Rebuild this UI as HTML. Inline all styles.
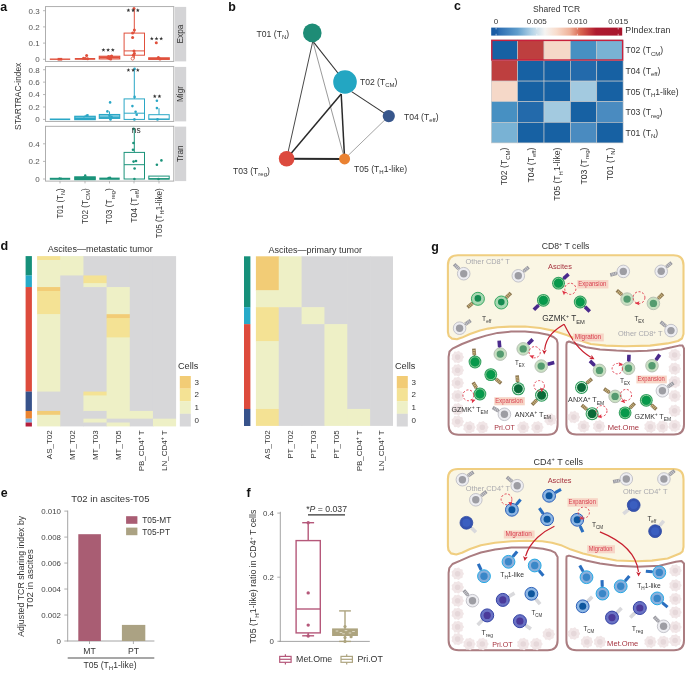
<!DOCTYPE html>
<html><head><meta charset="utf-8"><style>
html,body{margin:0;padding:0;background:#fff;width:685px;height:673px;overflow:hidden}
svg{display:block;font-family:"Liberation Sans", sans-serif;will-change:transform}
</style></head><body>
<svg width="685" height="673" viewBox="0 0 685 673" font-family='"Liberation Sans", sans-serif'>
<text x="0.20" y="10.90" font-size="12.4" fill="#111" text-anchor="start" font-weight="bold">a</text>
<rect x="45.50" y="6.60" width="128.30" height="54.80" fill="#fff" stroke="#a6a6a6" stroke-width="0.9"/>
<rect x="174.80" y="6.90" width="11.40" height="54.50" fill="#d4d4d6" stroke="none" stroke-width="1"/>
<text x="183.20" y="34.00" font-size="8.3" fill="#333" text-anchor="middle" transform="rotate(-90 183.20 34.00)">Expa</text>
<line x1="43.00" y1="59.30" x2="45.50" y2="59.30" stroke="#a6a6a6" stroke-width="0.8"/>
<text x="39.60" y="62.20" font-size="8.0" fill="#555" text-anchor="end">0</text>
<line x1="43.00" y1="43.10" x2="45.50" y2="43.10" stroke="#a6a6a6" stroke-width="0.8"/>
<text x="39.60" y="46.00" font-size="8.0" fill="#555" text-anchor="end">0.1</text>
<line x1="43.00" y1="26.90" x2="45.50" y2="26.90" stroke="#a6a6a6" stroke-width="0.8"/>
<text x="39.60" y="29.80" font-size="8.0" fill="#555" text-anchor="end">0.2</text>
<line x1="43.00" y1="10.70" x2="45.50" y2="10.70" stroke="#a6a6a6" stroke-width="0.8"/>
<text x="39.60" y="13.60" font-size="8.0" fill="#555" text-anchor="end">0.3</text>
<rect x="45.50" y="66.60" width="128.30" height="54.80" fill="#fff" stroke="#a6a6a6" stroke-width="0.9"/>
<rect x="174.80" y="66.90" width="11.40" height="54.50" fill="#d4d4d6" stroke="none" stroke-width="1"/>
<text x="183.20" y="94.00" font-size="8.3" fill="#333" text-anchor="middle" transform="rotate(-90 183.20 94.00)">Migr</text>
<line x1="43.00" y1="119.40" x2="45.50" y2="119.40" stroke="#a6a6a6" stroke-width="0.8"/>
<text x="39.60" y="122.30" font-size="8.0" fill="#555" text-anchor="end">0</text>
<line x1="43.00" y1="106.98" x2="45.50" y2="106.98" stroke="#a6a6a6" stroke-width="0.8"/>
<text x="39.60" y="109.88" font-size="8.0" fill="#555" text-anchor="end">0.2</text>
<line x1="43.00" y1="94.56" x2="45.50" y2="94.56" stroke="#a6a6a6" stroke-width="0.8"/>
<text x="39.60" y="97.46" font-size="8.0" fill="#555" text-anchor="end">0.4</text>
<line x1="43.00" y1="82.14" x2="45.50" y2="82.14" stroke="#a6a6a6" stroke-width="0.8"/>
<text x="39.60" y="85.04" font-size="8.0" fill="#555" text-anchor="end">0.6</text>
<line x1="43.00" y1="69.72" x2="45.50" y2="69.72" stroke="#a6a6a6" stroke-width="0.8"/>
<text x="39.60" y="72.62" font-size="8.0" fill="#555" text-anchor="end">0.8</text>
<rect x="45.50" y="126.30" width="128.30" height="54.80" fill="#fff" stroke="#a6a6a6" stroke-width="0.9"/>
<rect x="174.80" y="126.60" width="11.40" height="54.50" fill="#d4d4d6" stroke="none" stroke-width="1"/>
<text x="183.20" y="153.70" font-size="8.3" fill="#333" text-anchor="middle" transform="rotate(-90 183.20 153.70)">Tran</text>
<line x1="43.00" y1="179.00" x2="45.50" y2="179.00" stroke="#a6a6a6" stroke-width="0.8"/>
<text x="39.60" y="181.90" font-size="8.0" fill="#555" text-anchor="end">0</text>
<line x1="43.00" y1="161.40" x2="45.50" y2="161.40" stroke="#a6a6a6" stroke-width="0.8"/>
<text x="39.60" y="164.30" font-size="8.0" fill="#555" text-anchor="end">0.2</text>
<line x1="43.00" y1="143.80" x2="45.50" y2="143.80" stroke="#a6a6a6" stroke-width="0.8"/>
<text x="39.60" y="146.70" font-size="8.0" fill="#555" text-anchor="end">0.4</text>
<line x1="60.00" y1="181.10" x2="60.00" y2="183.40" stroke="#a6a6a6" stroke-width="0.8"/>
<line x1="85.00" y1="181.10" x2="85.00" y2="183.40" stroke="#a6a6a6" stroke-width="0.8"/>
<line x1="109.50" y1="181.10" x2="109.50" y2="183.40" stroke="#a6a6a6" stroke-width="0.8"/>
<line x1="134.00" y1="181.10" x2="134.00" y2="183.40" stroke="#a6a6a6" stroke-width="0.8"/>
<line x1="159.00" y1="181.10" x2="159.00" y2="183.40" stroke="#a6a6a6" stroke-width="0.8"/>
<rect x="49.80" y="58.50" width="20.40" height="1.40" fill="#e0503c" stroke="none" stroke-width="1"/>
<rect x="57.60" y="57.90" width="4.60" height="2.70" fill="#e0503c" stroke="none" stroke-width="1"/>
<rect x="74.80" y="58.00" width="20.40" height="1.80" fill="#e0503c" stroke="none" stroke-width="1"/>
<circle cx="86.60" cy="55.60" r="1.50" fill="#e0503c" stroke="none" stroke-width="1"/>
<circle cx="83.50" cy="58.30" r="1.50" fill="#e0503c" stroke="none" stroke-width="1"/>
<circle cx="85.30" cy="58.60" r="1.50" fill="#e0503c" stroke="none" stroke-width="1"/>
<circle cx="87.60" cy="58.70" r="1.50" fill="#e0503c" stroke="none" stroke-width="1"/>
<line x1="109.50" y1="56.30" x2="109.50" y2="55.80" stroke="#e0503c" stroke-width="1.2"/>
<line x1="109.50" y1="58.90" x2="109.50" y2="59.20" stroke="#e0503c" stroke-width="1.2"/>
<rect x="99.30" y="56.30" width="20.40" height="2.60" fill="none" stroke="#e0503c" stroke-width="1.2"/>
<line x1="99.30" y1="57.60" x2="119.70" y2="57.60" stroke="#e0503c" stroke-width="1.2"/>
<circle cx="108.50" cy="56.50" r="1.50" fill="#e0503c" stroke="none" stroke-width="1"/>
<circle cx="110.50" cy="56.80" r="1.50" fill="#e0503c" stroke="none" stroke-width="1"/>
<circle cx="111.60" cy="56.00" r="1.50" fill="#e0503c" stroke="none" stroke-width="1"/>
<circle cx="109.50" cy="58.40" r="1.50" fill="#e0503c" stroke="none" stroke-width="1"/>
<circle cx="107.80" cy="57.80" r="1.50" fill="#e0503c" stroke="none" stroke-width="1"/>
<circle cx="110.70" cy="58.90" r="1.50" fill="#e0503c" stroke="none" stroke-width="1"/>
<line x1="134.30" y1="33.10" x2="134.30" y2="8.20" stroke="#e0503c" stroke-width="1.0"/>
<line x1="134.30" y1="55.20" x2="134.30" y2="58.70" stroke="#e0503c" stroke-width="1.0"/>
<rect x="124.10" y="33.10" width="20.40" height="22.10" fill="none" stroke="#e0503c" stroke-width="1.0"/>
<line x1="124.10" y1="50.90" x2="144.50" y2="50.90" stroke="#e0503c" stroke-width="1.0"/>
<circle cx="134.00" cy="8.60" r="1.50" fill="#e0503c" stroke="none" stroke-width="1"/>
<circle cx="134.40" cy="30.00" r="1.50" fill="#e0503c" stroke="none" stroke-width="1"/>
<circle cx="132.60" cy="33.00" r="1.50" fill="#e0503c" stroke="none" stroke-width="1"/>
<circle cx="132.60" cy="37.40" r="1.50" fill="#e0503c" stroke="none" stroke-width="1"/>
<circle cx="134.00" cy="51.10" r="1.50" fill="#e0503c" stroke="none" stroke-width="1"/>
<circle cx="134.40" cy="53.60" r="1.50" fill="#e0503c" stroke="none" stroke-width="1"/>
<circle cx="133.30" cy="55.20" r="1.50" fill="#e0503c" stroke="none" stroke-width="1"/>
<circle cx="132.60" cy="58.60" r="1.50" fill="#fff" stroke="#e0503c" stroke-width="0.8"/>
<line x1="159.00" y1="57.90" x2="159.00" y2="57.90" stroke="#e0503c" stroke-width="1.3"/>
<line x1="159.00" y1="59.30" x2="159.00" y2="59.40" stroke="#e0503c" stroke-width="1.3"/>
<rect x="148.80" y="57.90" width="20.40" height="1.40" fill="none" stroke="#e0503c" stroke-width="1.3"/>
<line x1="148.80" y1="58.70" x2="169.20" y2="58.70" stroke="#e0503c" stroke-width="1.3"/>
<circle cx="156.30" cy="42.70" r="1.50" fill="#e0503c" stroke="none" stroke-width="1"/>
<circle cx="158.40" cy="57.60" r="1.50" fill="#e0503c" stroke="none" stroke-width="1"/>
<circle cx="160.00" cy="58.90" r="1.50" fill="#e0503c" stroke="none" stroke-width="1"/>
<polygon points="103.40,47.95 103.90,49.31 105.35,49.37 104.21,50.26 104.60,51.66 103.40,50.85 102.20,51.66 102.59,50.26 101.45,49.37 102.90,49.31" fill="#333"/>
<polygon points="108.10,47.95 108.60,49.31 110.05,49.37 108.91,50.26 109.30,51.66 108.10,50.85 106.90,51.66 107.29,50.26 106.15,49.37 107.60,49.31" fill="#333"/>
<polygon points="112.80,47.95 113.30,49.31 114.75,49.37 113.61,50.26 114.00,51.66 112.80,50.85 111.60,51.66 111.99,50.26 110.85,49.37 112.30,49.31" fill="#333"/>
<polygon points="128.40,8.25 128.90,9.61 130.35,9.67 129.21,10.56 129.60,11.96 128.40,11.15 127.20,11.96 127.59,10.56 126.45,9.67 127.90,9.61" fill="#333"/>
<polygon points="133.10,8.25 133.60,9.61 135.05,9.67 133.91,10.56 134.30,11.96 133.10,11.15 131.90,11.96 132.29,10.56 131.15,9.67 132.60,9.61" fill="#333"/>
<polygon points="137.80,8.25 138.30,9.61 139.75,9.67 138.61,10.56 139.00,11.96 137.80,11.15 136.60,11.96 136.99,10.56 135.85,9.67 137.30,9.61" fill="#333"/>
<polygon points="151.80,36.55 152.30,37.91 153.75,37.97 152.61,38.86 153.00,40.26 151.80,39.45 150.60,40.26 150.99,38.86 149.85,37.97 151.30,37.91" fill="#333"/>
<polygon points="156.50,36.55 157.00,37.91 158.45,37.97 157.31,38.86 157.70,40.26 156.50,39.45 155.30,40.26 155.69,38.86 154.55,37.97 156.00,37.91" fill="#333"/>
<polygon points="161.20,36.55 161.70,37.91 163.15,37.97 162.01,38.86 162.40,40.26 161.20,39.45 160.00,40.26 160.39,38.86 159.25,37.97 160.70,37.91" fill="#333"/>
<rect x="49.80" y="118.50" width="20.40" height="1.60" fill="#2aa7c6" stroke="none" stroke-width="1"/>
<line x1="85.00" y1="116.30" x2="85.00" y2="115.60" stroke="#2aa7c6" stroke-width="1.2"/>
<line x1="85.00" y1="119.60" x2="85.00" y2="119.70" stroke="#2aa7c6" stroke-width="1.2"/>
<rect x="74.80" y="116.30" width="20.40" height="3.30" fill="#62c0d8" stroke="#2aa7c6" stroke-width="1.2"/>
<line x1="74.80" y1="118.60" x2="95.20" y2="118.60" stroke="#2aa7c6" stroke-width="1.2"/>
<circle cx="86.60" cy="115.60" r="1.20" fill="#2aa7c6" stroke="none" stroke-width="1"/>
<circle cx="87.60" cy="115.10" r="1.20" fill="#2aa7c6" stroke="none" stroke-width="1"/>
<circle cx="84.00" cy="118.80" r="1.20" fill="#2aa7c6" stroke="none" stroke-width="1"/>
<line x1="109.50" y1="114.50" x2="109.50" y2="111.40" stroke="#2aa7c6" stroke-width="1.1"/>
<line x1="109.50" y1="118.40" x2="109.50" y2="119.40" stroke="#2aa7c6" stroke-width="1.1"/>
<rect x="99.30" y="114.50" width="20.40" height="3.90" fill="#7ccbe0" stroke="#2aa7c6" stroke-width="1.1"/>
<line x1="99.30" y1="117.30" x2="119.70" y2="117.30" stroke="#2aa7c6" stroke-width="1.1"/>
<circle cx="110.10" cy="102.40" r="1.30" fill="#2aa7c6" stroke="none" stroke-width="1"/>
<circle cx="107.40" cy="111.40" r="1.30" fill="#2aa7c6" stroke="none" stroke-width="1"/>
<circle cx="109.50" cy="115.70" r="1.30" fill="#2aa7c6" stroke="none" stroke-width="1"/>
<circle cx="110.50" cy="119.40" r="1.30" fill="#2aa7c6" stroke="none" stroke-width="1"/>
<circle cx="111.50" cy="116.90" r="1.30" fill="#2aa7c6" stroke="none" stroke-width="1"/>
<line x1="134.30" y1="98.90" x2="134.30" y2="68.90" stroke="#2aa7c6" stroke-width="1.0"/>
<line x1="134.30" y1="119.40" x2="134.30" y2="119.40" stroke="#2aa7c6" stroke-width="1.0"/>
<rect x="124.10" y="98.90" width="20.40" height="20.50" fill="none" stroke="#2aa7c6" stroke-width="1.0"/>
<line x1="124.10" y1="113.20" x2="144.50" y2="113.20" stroke="#2aa7c6" stroke-width="1.0"/>
<circle cx="134.60" cy="68.90" r="1.30" fill="#2aa7c6" stroke="none" stroke-width="1"/>
<circle cx="134.60" cy="96.90" r="1.30" fill="#2aa7c6" stroke="none" stroke-width="1"/>
<circle cx="132.40" cy="106.10" r="1.30" fill="#2aa7c6" stroke="none" stroke-width="1"/>
<circle cx="135.60" cy="111.80" r="1.30" fill="#2aa7c6" stroke="none" stroke-width="1"/>
<circle cx="136.70" cy="114.70" r="1.30" fill="#2aa7c6" stroke="none" stroke-width="1"/>
<circle cx="134.40" cy="119.40" r="1.30" fill="#2aa7c6" stroke="none" stroke-width="1"/>
<line x1="159.00" y1="114.70" x2="159.00" y2="108.20" stroke="#2aa7c6" stroke-width="1.0"/>
<line x1="159.00" y1="119.40" x2="159.00" y2="119.40" stroke="#2aa7c6" stroke-width="1.0"/>
<rect x="148.80" y="114.70" width="20.40" height="4.70" fill="none" stroke="#2aa7c6" stroke-width="1.0"/>
<line x1="148.80" y1="119.00" x2="169.20" y2="119.00" stroke="#2aa7c6" stroke-width="1.0"/>
<circle cx="156.90" cy="100.80" r="1.30" fill="#2aa7c6" stroke="none" stroke-width="1"/>
<circle cx="156.90" cy="108.10" r="1.30" fill="#2aa7c6" stroke="none" stroke-width="1"/>
<circle cx="157.50" cy="119.40" r="1.30" fill="#2aa7c6" stroke="none" stroke-width="1"/>
<polygon points="128.40,68.05 128.90,69.41 130.35,69.47 129.21,70.36 129.60,71.76 128.40,70.95 127.20,71.76 127.59,70.36 126.45,69.47 127.90,69.41" fill="#333"/>
<polygon points="133.10,68.05 133.60,69.41 135.05,69.47 133.91,70.36 134.30,71.76 133.10,70.95 131.90,71.76 132.29,70.36 131.15,69.47 132.60,69.41" fill="#333"/>
<polygon points="137.80,68.05 138.30,69.41 139.75,69.47 138.61,70.36 139.00,71.76 137.80,70.95 136.60,71.76 136.99,70.36 135.85,69.47 137.30,69.41" fill="#333"/>
<polygon points="154.75,94.25 155.25,95.61 156.70,95.67 155.56,96.56 155.95,97.96 154.75,97.15 153.55,97.96 153.94,96.56 152.80,95.67 154.25,95.61" fill="#333"/>
<polygon points="159.45,94.25 159.95,95.61 161.40,95.67 160.26,96.56 160.65,97.96 159.45,97.15 158.25,97.96 158.64,96.56 157.50,95.67 158.95,95.61" fill="#333"/>
<rect x="49.80" y="177.80" width="20.40" height="2.00" fill="#1b937a" stroke="none" stroke-width="1"/>
<circle cx="59.50" cy="178.40" r="1.10" fill="#1b937a" stroke="none" stroke-width="1"/>
<circle cx="61.00" cy="178.60" r="1.10" fill="#1b937a" stroke="none" stroke-width="1"/>
<line x1="85.00" y1="176.90" x2="85.00" y2="176.20" stroke="#1b937a" stroke-width="1.2"/>
<line x1="85.00" y1="179.60" x2="85.00" y2="179.60" stroke="#1b937a" stroke-width="1.2"/>
<rect x="74.80" y="176.90" width="20.40" height="2.70" fill="#1b937a" stroke="#1b937a" stroke-width="1.2"/>
<line x1="74.80" y1="178.40" x2="95.20" y2="178.40" stroke="#1b937a" stroke-width="1.2"/>
<circle cx="85.20" cy="175.40" r="1.20" fill="#1b937a" stroke="none" stroke-width="1"/>
<circle cx="83.70" cy="177.50" r="1.20" fill="#1b937a" stroke="none" stroke-width="1"/>
<circle cx="86.50" cy="177.80" r="1.20" fill="#1b937a" stroke="none" stroke-width="1"/>
<rect x="99.30" y="177.60" width="20.40" height="2.20" fill="#1b937a" stroke="none" stroke-width="1"/>
<circle cx="110.00" cy="177.60" r="1.20" fill="#1b937a" stroke="none" stroke-width="1"/>
<circle cx="108.50" cy="178.00" r="1.20" fill="#1b937a" stroke="none" stroke-width="1"/>
<line x1="134.30" y1="152.40" x2="134.30" y2="128.30" stroke="#1b937a" stroke-width="1.0"/>
<line x1="134.30" y1="179.00" x2="134.30" y2="179.00" stroke="#1b937a" stroke-width="1.0"/>
<rect x="124.10" y="152.40" width="20.40" height="26.60" fill="none" stroke="#1b937a" stroke-width="1.0"/>
<line x1="124.10" y1="164.70" x2="144.50" y2="164.70" stroke="#1b937a" stroke-width="1.0"/>
<circle cx="133.60" cy="128.90" r="1.30" fill="#1b937a" stroke="none" stroke-width="1"/>
<circle cx="133.40" cy="143.00" r="1.30" fill="#1b937a" stroke="none" stroke-width="1"/>
<circle cx="133.00" cy="149.70" r="1.30" fill="#1b937a" stroke="none" stroke-width="1"/>
<circle cx="133.60" cy="161.60" r="1.30" fill="#1b937a" stroke="none" stroke-width="1"/>
<circle cx="136.00" cy="161.00" r="1.30" fill="#1b937a" stroke="none" stroke-width="1"/>
<circle cx="134.60" cy="168.50" r="1.30" fill="#1b937a" stroke="none" stroke-width="1"/>
<circle cx="134.40" cy="179.00" r="1.30" fill="#1b937a" stroke="none" stroke-width="1"/>
<line x1="159.00" y1="176.10" x2="159.00" y2="176.10" stroke="#1b937a" stroke-width="1.0"/>
<line x1="159.00" y1="179.20" x2="159.00" y2="179.20" stroke="#1b937a" stroke-width="1.0"/>
<rect x="148.80" y="176.10" width="20.40" height="3.10" fill="none" stroke="#1b937a" stroke-width="1.0"/>
<line x1="148.80" y1="178.60" x2="169.20" y2="178.60" stroke="#1b937a" stroke-width="1.0"/>
<circle cx="156.90" cy="164.70" r="1.30" fill="#1b937a" stroke="none" stroke-width="1"/>
<circle cx="161.40" cy="160.40" r="1.30" fill="#1b937a" stroke="none" stroke-width="1"/>
<circle cx="158.50" cy="179.00" r="1.30" fill="#1b937a" stroke="none" stroke-width="1"/>
<text x="136.30" y="133.20" font-size="8.4" fill="#333" text-anchor="middle">ns</text>
<text x="62.70" y="188.30" font-size="8.6" fill="#333" text-anchor="end" transform="rotate(-90 62.70 188.30)" textLength="30.2" lengthAdjust="spacingAndGlyphs">T01 (T<tspan font-size="6.02" dy="2.41">N</tspan><tspan dy="-2.41">)</tspan></text>
<text x="87.70" y="188.30" font-size="8.6" fill="#333" text-anchor="end" transform="rotate(-90 87.70 188.30)" textLength="35.8" lengthAdjust="spacingAndGlyphs">T02 (T<tspan font-size="6.02" dy="2.41">CM</tspan><tspan dy="-2.41">)</tspan></text>
<text x="112.20" y="188.30" font-size="8.6" fill="#333" text-anchor="end" transform="rotate(-90 112.20 188.30)" textLength="35.6" lengthAdjust="spacingAndGlyphs">T03 (T<tspan font-size="6.02" dy="2.41">reg</tspan><tspan dy="-2.41">)</tspan></text>
<text x="136.70" y="188.30" font-size="8.6" fill="#333" text-anchor="end" transform="rotate(-90 136.70 188.30)" textLength="34.4" lengthAdjust="spacingAndGlyphs">T04 (T<tspan font-size="6.02" dy="2.41">eff</tspan><tspan dy="-2.41">)</tspan></text>
<text x="161.70" y="188.30" font-size="8.6" fill="#333" text-anchor="end" transform="rotate(-90 161.70 188.30)" textLength="50.0" lengthAdjust="spacingAndGlyphs">T05 (T<tspan font-size="6.02" dy="2.41">H</tspan><tspan dy="-2.41">1-like)</tspan></text>
<text x="20.80" y="96.30" font-size="8.4" fill="#333" text-anchor="middle" transform="rotate(-90 20.80 96.30)">STARTRAC-index</text>
<text x="228.20" y="10.90" font-size="12.4" fill="#111" text-anchor="start" font-weight="bold">b</text>
<line x1="312.80" y1="41.20" x2="345.00" y2="82.00" stroke="#333" stroke-width="1.1"/>
<line x1="312.80" y1="41.20" x2="286.60" y2="158.70" stroke="#333" stroke-width="0.9"/>
<line x1="312.80" y1="41.20" x2="344.60" y2="158.90" stroke="#555" stroke-width="0.6"/>
<line x1="341.20" y1="94.00" x2="286.60" y2="158.70" stroke="#2a2a2a" stroke-width="1.5"/>
<line x1="341.20" y1="94.00" x2="344.60" y2="158.90" stroke="#2a2a2a" stroke-width="1.5"/>
<line x1="351.60" y1="91.60" x2="388.80" y2="116.10" stroke="#333" stroke-width="1.1"/>
<line x1="388.80" y1="116.10" x2="344.60" y2="158.90" stroke="#666" stroke-width="0.6"/>
<line x1="286.60" y1="158.70" x2="344.60" y2="158.90" stroke="#2a2a2a" stroke-width="2.0"/>
<circle cx="312.30" cy="32.90" r="9.30" fill="#1e8c76" stroke="none" stroke-width="1"/>
<circle cx="345.00" cy="82.00" r="11.80" fill="#23a6c2" stroke="none" stroke-width="1"/>
<circle cx="388.80" cy="116.10" r="6.10" fill="#38578c" stroke="none" stroke-width="1"/>
<circle cx="286.60" cy="158.70" r="7.80" fill="#dc4a3e" stroke="none" stroke-width="1"/>
<circle cx="344.60" cy="158.90" r="5.50" fill="#ea8232" stroke="none" stroke-width="1"/>
<text x="256.60" y="36.60" font-size="8.6" fill="#333" text-anchor="start">T01 (T<tspan font-size="6.02" dy="2.41">N</tspan><tspan dy="-2.41">)</tspan></text>
<text x="359.90" y="84.80" font-size="8.6" fill="#333" text-anchor="start">T02 (T<tspan font-size="6.02" dy="2.41">CM</tspan><tspan dy="-2.41">)</tspan></text>
<text x="403.90" y="120.00" font-size="8.6" fill="#333" text-anchor="start">T04 (T<tspan font-size="6.02" dy="2.41">eff</tspan><tspan dy="-2.41">)</tspan></text>
<text x="233.00" y="173.60" font-size="8.6" fill="#333" text-anchor="start">T03 (T<tspan font-size="6.02" dy="2.41">reg</tspan><tspan dy="-2.41">)</tspan></text>
<text x="354.00" y="171.90" font-size="8.6" fill="#333" text-anchor="start">T05 (T<tspan font-size="6.02" dy="2.41">H</tspan><tspan dy="-2.41">1-like)</tspan></text>
<text x="454.10" y="10.40" font-size="12.4" fill="#111" text-anchor="start" font-weight="bold">c</text>
<text x="556.60" y="12.00" font-size="8.5" fill="#333" text-anchor="middle">Shared TCR</text>
<defs><linearGradient id="cb" x1="0" x2="1" y1="0" y2="0">
<stop offset="0" stop-color="#175aa3"/><stop offset="0.045" stop-color="#1b5ea6"/><stop offset="0.06" stop-color="#2c6db2"/>
<stop offset="0.2" stop-color="#5f9dcc"/><stop offset="0.31" stop-color="#b3d3e7"/><stop offset="0.41" stop-color="#f5f4f2"/><stop offset="0.5" stop-color="#f8dccc"/>
<stop offset="0.6" stop-color="#efb29a"/><stop offset="0.68" stop-color="#d96650"/><stop offset="0.75" stop-color="#c2383b"/><stop offset="0.8" stop-color="#ae1a2f"/><stop offset="1" stop-color="#a8152d"/>
</linearGradient></defs>
<rect x="491.20" y="27.60" width="131.00" height="8.00" fill="url(#cb)" stroke="none" stroke-width="1"/>
<line x1="496.10" y1="27.60" x2="496.10" y2="29.40" stroke="#fff" stroke-width="0.6"/>
<line x1="496.10" y1="33.80" x2="496.10" y2="35.60" stroke="#fff" stroke-width="0.6"/>
<text x="496.10" y="23.70" font-size="8.0" fill="#333" text-anchor="middle">0</text>
<line x1="536.80" y1="27.60" x2="536.80" y2="29.40" stroke="#fff" stroke-width="0.6"/>
<line x1="536.80" y1="33.80" x2="536.80" y2="35.60" stroke="#fff" stroke-width="0.6"/>
<text x="536.80" y="23.70" font-size="8.0" fill="#333" text-anchor="middle">0.005</text>
<line x1="577.40" y1="27.60" x2="577.40" y2="29.40" stroke="#fff" stroke-width="0.6"/>
<line x1="577.40" y1="33.80" x2="577.40" y2="35.60" stroke="#fff" stroke-width="0.6"/>
<text x="577.40" y="23.70" font-size="8.0" fill="#333" text-anchor="middle">0.010</text>
<line x1="618.20" y1="27.60" x2="618.20" y2="29.40" stroke="#fff" stroke-width="0.6"/>
<line x1="618.20" y1="33.80" x2="618.20" y2="35.60" stroke="#fff" stroke-width="0.6"/>
<text x="618.20" y="23.70" font-size="8.0" fill="#333" text-anchor="middle">0.015</text>
<text x="625.30" y="32.90" font-size="8.8" fill="#333" text-anchor="start">PIndex.tran</text>
<rect x="491.30" y="39.90" width="26.36" height="20.60" fill="#1761a3" stroke="#c9c9c9" stroke-width="0.6"/>
<rect x="517.66" y="39.90" width="26.36" height="20.60" fill="#be3f3f" stroke="#c9c9c9" stroke-width="0.6"/>
<rect x="544.02" y="39.90" width="26.36" height="20.60" fill="#f5d8c8" stroke="#c9c9c9" stroke-width="0.6"/>
<rect x="570.38" y="39.90" width="26.36" height="20.60" fill="#4790c2" stroke="#c9c9c9" stroke-width="0.6"/>
<rect x="596.74" y="39.90" width="26.36" height="20.60" fill="#79b2d4" stroke="#c9c9c9" stroke-width="0.6"/>
<rect x="491.30" y="60.50" width="26.36" height="20.60" fill="#be3f3f" stroke="#c9c9c9" stroke-width="0.6"/>
<rect x="517.66" y="60.50" width="26.36" height="20.60" fill="#1761a3" stroke="#c9c9c9" stroke-width="0.6"/>
<rect x="544.02" y="60.50" width="26.36" height="20.60" fill="#1761a3" stroke="#c9c9c9" stroke-width="0.6"/>
<rect x="570.38" y="60.50" width="26.36" height="20.60" fill="#236aab" stroke="#c9c9c9" stroke-width="0.6"/>
<rect x="596.74" y="60.50" width="26.36" height="20.60" fill="#1761a3" stroke="#c9c9c9" stroke-width="0.6"/>
<rect x="491.30" y="81.10" width="26.36" height="20.60" fill="#f5d8c8" stroke="#c9c9c9" stroke-width="0.6"/>
<rect x="517.66" y="81.10" width="26.36" height="20.60" fill="#1761a3" stroke="#c9c9c9" stroke-width="0.6"/>
<rect x="544.02" y="81.10" width="26.36" height="20.60" fill="#1761a3" stroke="#c9c9c9" stroke-width="0.6"/>
<rect x="570.38" y="81.10" width="26.36" height="20.60" fill="#a3cae0" stroke="#c9c9c9" stroke-width="0.6"/>
<rect x="596.74" y="81.10" width="26.36" height="20.60" fill="#1761a3" stroke="#c9c9c9" stroke-width="0.6"/>
<rect x="491.30" y="101.70" width="26.36" height="20.60" fill="#4790c2" stroke="#c9c9c9" stroke-width="0.6"/>
<rect x="517.66" y="101.70" width="26.36" height="20.60" fill="#236aab" stroke="#c9c9c9" stroke-width="0.6"/>
<rect x="544.02" y="101.70" width="26.36" height="20.60" fill="#a3cae0" stroke="#c9c9c9" stroke-width="0.6"/>
<rect x="570.38" y="101.70" width="26.36" height="20.60" fill="#1761a3" stroke="#c9c9c9" stroke-width="0.6"/>
<rect x="596.74" y="101.70" width="26.36" height="20.60" fill="#4a8bc0" stroke="#c9c9c9" stroke-width="0.6"/>
<rect x="491.30" y="122.30" width="26.36" height="20.60" fill="#79b2d4" stroke="#c9c9c9" stroke-width="0.6"/>
<rect x="517.66" y="122.30" width="26.36" height="20.60" fill="#1761a3" stroke="#c9c9c9" stroke-width="0.6"/>
<rect x="544.02" y="122.30" width="26.36" height="20.60" fill="#1761a3" stroke="#c9c9c9" stroke-width="0.6"/>
<rect x="570.38" y="122.30" width="26.36" height="20.60" fill="#4a8bc0" stroke="#c9c9c9" stroke-width="0.6"/>
<rect x="596.74" y="122.30" width="26.36" height="20.60" fill="#1761a3" stroke="#c9c9c9" stroke-width="0.6"/>
<rect x="491.80" y="40.40" width="130.80" height="19.60" fill="none" stroke="#c8203c" stroke-width="1.4"/>
<text x="625.60" y="53.30" font-size="8.6" fill="#333" text-anchor="start">T02 (T<tspan font-size="6.02" dy="2.41">CM</tspan><tspan dy="-2.41">)</tspan></text>
<text x="625.60" y="73.90" font-size="8.6" fill="#333" text-anchor="start">T04 (T<tspan font-size="6.02" dy="2.41">eff</tspan><tspan dy="-2.41">)</tspan></text>
<text x="625.60" y="94.50" font-size="8.6" fill="#333" text-anchor="start">T05 (T<tspan font-size="6.02" dy="2.41">H</tspan><tspan dy="-2.41">1-like)</tspan></text>
<text x="625.60" y="115.10" font-size="8.6" fill="#333" text-anchor="start">T03 (T<tspan font-size="6.02" dy="2.41">reg</tspan><tspan dy="-2.41">)</tspan></text>
<text x="625.60" y="135.70" font-size="8.6" fill="#333" text-anchor="start">T01 (T<tspan font-size="6.02" dy="2.41">N</tspan><tspan dy="-2.41">)</tspan></text>
<text x="507.48" y="147.60" font-size="8.6" fill="#333" text-anchor="end" transform="rotate(-90 507.48 147.60)">T02 (T<tspan font-size="6.02" dy="2.41">CM</tspan><tspan dy="-2.41">)</tspan></text>
<text x="533.84" y="147.60" font-size="8.6" fill="#333" text-anchor="end" transform="rotate(-90 533.84 147.60)">T04 (T<tspan font-size="6.02" dy="2.41">eff</tspan><tspan dy="-2.41">)</tspan></text>
<text x="560.20" y="147.60" font-size="8.6" fill="#333" text-anchor="end" transform="rotate(-90 560.20 147.60)">T05 (T<tspan font-size="6.02" dy="2.41">H</tspan><tspan dy="-2.41">1-like)</tspan></text>
<text x="586.56" y="147.60" font-size="8.6" fill="#333" text-anchor="end" transform="rotate(-90 586.56 147.60)">T03 (T<tspan font-size="6.02" dy="2.41">reg</tspan><tspan dy="-2.41">)</tspan></text>
<text x="612.92" y="147.60" font-size="8.6" fill="#333" text-anchor="end" transform="rotate(-90 612.92 147.60)">T01 (T<tspan font-size="6.02" dy="2.41">N</tspan><tspan dy="-2.41">)</tspan></text>
<text x="0.60" y="249.80" font-size="12.6" fill="#111" text-anchor="start" font-weight="bold">d</text>
<rect x="37.10" y="256.10" width="23.77" height="4.47" fill="#f4e294" stroke="none" stroke-width="1"/>
<rect x="37.10" y="259.97" width="23.77" height="27.69" fill="#eef0c6" stroke="none" stroke-width="1"/>
<rect x="37.10" y="287.06" width="23.77" height="4.47" fill="#f2cc76" stroke="none" stroke-width="1"/>
<rect x="37.10" y="290.93" width="23.77" height="23.82" fill="#f4e294" stroke="none" stroke-width="1"/>
<rect x="37.10" y="314.16" width="23.77" height="78.01" fill="#eef0c6" stroke="none" stroke-width="1"/>
<rect x="37.10" y="391.57" width="23.77" height="19.95" fill="#d7d7d9" stroke="none" stroke-width="1"/>
<rect x="37.10" y="410.92" width="23.77" height="4.47" fill="#f2cc76" stroke="none" stroke-width="1"/>
<rect x="37.10" y="414.79" width="23.77" height="11.61" fill="#eef0c6" stroke="none" stroke-width="1"/>
<rect x="60.27" y="256.10" width="23.77" height="19.95" fill="#eef0c6" stroke="none" stroke-width="1"/>
<rect x="60.27" y="275.45" width="23.77" height="150.95" fill="#d7d7d9" stroke="none" stroke-width="1"/>
<rect x="83.43" y="256.10" width="23.77" height="19.95" fill="#d7d7d9" stroke="none" stroke-width="1"/>
<rect x="83.43" y="275.45" width="23.77" height="8.34" fill="#f4e294" stroke="none" stroke-width="1"/>
<rect x="83.43" y="283.19" width="23.77" height="4.47" fill="#eef0c6" stroke="none" stroke-width="1"/>
<rect x="83.43" y="287.06" width="23.77" height="105.10" fill="#d7d7d9" stroke="none" stroke-width="1"/>
<rect x="83.43" y="391.57" width="23.77" height="4.47" fill="#f4e294" stroke="none" stroke-width="1"/>
<rect x="83.43" y="395.44" width="23.77" height="16.08" fill="#eef0c6" stroke="none" stroke-width="1"/>
<rect x="83.43" y="410.92" width="23.77" height="8.34" fill="#d7d7d9" stroke="none" stroke-width="1"/>
<rect x="83.43" y="418.66" width="23.77" height="4.47" fill="#eef0c6" stroke="none" stroke-width="1"/>
<rect x="83.43" y="422.53" width="23.77" height="3.87" fill="#d7d7d9" stroke="none" stroke-width="1"/>
<rect x="106.60" y="256.10" width="23.77" height="31.56" fill="#d7d7d9" stroke="none" stroke-width="1"/>
<rect x="106.60" y="287.06" width="23.77" height="27.69" fill="#eef0c6" stroke="none" stroke-width="1"/>
<rect x="106.60" y="314.16" width="23.77" height="4.47" fill="#f2cc76" stroke="none" stroke-width="1"/>
<rect x="106.60" y="318.03" width="23.77" height="19.95" fill="#f4e294" stroke="none" stroke-width="1"/>
<rect x="106.60" y="337.38" width="23.77" height="81.88" fill="#eef0c6" stroke="none" stroke-width="1"/>
<rect x="106.60" y="418.66" width="23.77" height="4.47" fill="#d7d7d9" stroke="none" stroke-width="1"/>
<rect x="106.60" y="422.53" width="23.77" height="3.87" fill="#eef0c6" stroke="none" stroke-width="1"/>
<rect x="129.77" y="256.10" width="23.77" height="155.42" fill="#d7d7d9" stroke="none" stroke-width="1"/>
<rect x="129.77" y="410.92" width="23.77" height="8.34" fill="#eef0c6" stroke="none" stroke-width="1"/>
<rect x="129.77" y="418.66" width="23.77" height="7.74" fill="#d7d7d9" stroke="none" stroke-width="1"/>
<rect x="152.93" y="256.10" width="23.17" height="163.16" fill="#d7d7d9" stroke="none" stroke-width="1"/>
<rect x="152.93" y="418.66" width="23.17" height="7.74" fill="#eef0c6" stroke="none" stroke-width="1"/>
<rect x="25.60" y="256.10" width="6.30" height="19.45" fill="#16907a" stroke="none" stroke-width="1"/>
<rect x="25.60" y="275.45" width="6.30" height="11.71" fill="#27aac8" stroke="none" stroke-width="1"/>
<rect x="25.60" y="287.06" width="6.30" height="104.60" fill="#dd4b3c" stroke="none" stroke-width="1"/>
<rect x="25.60" y="391.57" width="6.30" height="19.45" fill="#37528a" stroke="none" stroke-width="1"/>
<rect x="25.60" y="410.92" width="6.30" height="7.84" fill="#ea8430" stroke="none" stroke-width="1"/>
<rect x="25.60" y="418.66" width="6.30" height="3.97" fill="#7fb4e0" stroke="none" stroke-width="1"/>
<rect x="25.60" y="422.53" width="6.30" height="3.97" fill="#b51f3c" stroke="none" stroke-width="1"/>
<text x="100.30" y="251.80" font-size="9.05" fill="#333" text-anchor="middle">Ascites—metastatic tumor</text>
<rect x="255.90" y="256.30" width="23.45" height="34.52" fill="#f2cc76" stroke="none" stroke-width="1"/>
<rect x="255.90" y="290.22" width="23.45" height="17.56" fill="#eef0c6" stroke="none" stroke-width="1"/>
<rect x="255.90" y="307.18" width="23.45" height="34.52" fill="#f4e294" stroke="none" stroke-width="1"/>
<rect x="255.90" y="341.10" width="23.45" height="68.44" fill="#eef0c6" stroke="none" stroke-width="1"/>
<rect x="255.90" y="408.94" width="23.45" height="16.96" fill="#f4e294" stroke="none" stroke-width="1"/>
<rect x="278.75" y="256.30" width="23.45" height="51.48" fill="#eef0c6" stroke="none" stroke-width="1"/>
<rect x="278.75" y="307.18" width="23.45" height="118.72" fill="#d7d7d9" stroke="none" stroke-width="1"/>
<rect x="301.60" y="256.30" width="23.45" height="51.48" fill="#d7d7d9" stroke="none" stroke-width="1"/>
<rect x="301.60" y="307.18" width="23.45" height="17.56" fill="#eef0c6" stroke="none" stroke-width="1"/>
<rect x="301.60" y="324.14" width="23.45" height="101.76" fill="#d7d7d9" stroke="none" stroke-width="1"/>
<rect x="324.45" y="256.30" width="23.45" height="68.44" fill="#d7d7d9" stroke="none" stroke-width="1"/>
<rect x="324.45" y="324.14" width="23.45" height="101.76" fill="#eef0c6" stroke="none" stroke-width="1"/>
<rect x="347.30" y="256.30" width="23.45" height="153.24" fill="#d7d7d9" stroke="none" stroke-width="1"/>
<rect x="347.30" y="408.94" width="23.45" height="16.96" fill="#eef0c6" stroke="none" stroke-width="1"/>
<rect x="370.15" y="256.30" width="22.85" height="169.60" fill="#d7d7d9" stroke="none" stroke-width="1"/>
<rect x="244.00" y="256.30" width="6.40" height="50.98" fill="#16907a" stroke="none" stroke-width="1"/>
<rect x="244.00" y="307.18" width="6.40" height="17.06" fill="#27aac8" stroke="none" stroke-width="1"/>
<rect x="244.00" y="324.14" width="6.40" height="84.90" fill="#dd4b3c" stroke="none" stroke-width="1"/>
<rect x="244.00" y="408.94" width="6.40" height="17.06" fill="#37528a" stroke="none" stroke-width="1"/>
<text x="315.30" y="253.30" font-size="9.0" fill="#333" text-anchor="middle">Ascites—primary tumor</text>
<text x="177.90" y="369.10" font-size="9.2" fill="#333" text-anchor="start">Cells</text>
<rect x="179.80" y="376.00" width="11.00" height="12.70" fill="#f2cc76" stroke="none" stroke-width="1"/>
<text x="194.40" y="384.80" font-size="8.0" fill="#333" text-anchor="start">3</text>
<rect x="179.80" y="388.60" width="11.00" height="12.70" fill="#f4e294" stroke="none" stroke-width="1"/>
<text x="194.40" y="397.40" font-size="8.0" fill="#333" text-anchor="start">2</text>
<rect x="179.80" y="401.20" width="11.00" height="12.70" fill="#eef0c6" stroke="none" stroke-width="1"/>
<text x="194.40" y="410.00" font-size="8.0" fill="#333" text-anchor="start">1</text>
<rect x="179.80" y="413.80" width="11.00" height="12.70" fill="#d7d7d9" stroke="none" stroke-width="1"/>
<text x="194.40" y="422.60" font-size="8.0" fill="#333" text-anchor="start">0</text>
<text x="394.90" y="369.10" font-size="9.2" fill="#333" text-anchor="start">Cells</text>
<rect x="396.80" y="376.00" width="11.00" height="12.70" fill="#f2cc76" stroke="none" stroke-width="1"/>
<text x="411.40" y="384.80" font-size="8.0" fill="#333" text-anchor="start">3</text>
<rect x="396.80" y="388.60" width="11.00" height="12.70" fill="#f4e294" stroke="none" stroke-width="1"/>
<text x="411.40" y="397.40" font-size="8.0" fill="#333" text-anchor="start">2</text>
<rect x="396.80" y="401.20" width="11.00" height="12.70" fill="#eef0c6" stroke="none" stroke-width="1"/>
<text x="411.40" y="410.00" font-size="8.0" fill="#333" text-anchor="start">1</text>
<rect x="396.80" y="413.80" width="11.00" height="12.70" fill="#d7d7d9" stroke="none" stroke-width="1"/>
<text x="411.40" y="422.60" font-size="8.0" fill="#333" text-anchor="start">0</text>
<text x="51.58" y="430.30" font-size="8.0" fill="#333" text-anchor="end" transform="rotate(-90 51.58 430.30)">AS_T02</text>
<text x="74.75" y="430.30" font-size="8.0" fill="#333" text-anchor="end" transform="rotate(-90 74.75 430.30)">MT_T02</text>
<text x="97.92" y="430.30" font-size="8.0" fill="#333" text-anchor="end" transform="rotate(-90 97.92 430.30)">MT_T03</text>
<text x="121.08" y="430.30" font-size="8.0" fill="#333" text-anchor="end" transform="rotate(-90 121.08 430.30)">MT_T05</text>
<text x="144.25" y="430.30" font-size="8.0" fill="#333" text-anchor="end" transform="rotate(-90 144.25 430.30)">PB_CD4<tspan font-size="5" dy="-3">+</tspan><tspan dy="3"> T</tspan></text>
<text x="167.42" y="430.30" font-size="8.0" fill="#333" text-anchor="end" transform="rotate(-90 167.42 430.30)">LN_CD4<tspan font-size="5" dy="-3">+</tspan><tspan dy="3"> T</tspan></text>
<text x="270.22" y="430.30" font-size="8.0" fill="#333" text-anchor="end" transform="rotate(-90 270.22 430.30)">AS_T02</text>
<text x="293.07" y="430.30" font-size="8.0" fill="#333" text-anchor="end" transform="rotate(-90 293.07 430.30)">PT_T02</text>
<text x="315.93" y="430.30" font-size="8.0" fill="#333" text-anchor="end" transform="rotate(-90 315.93 430.30)">PT_T03</text>
<text x="338.77" y="430.30" font-size="8.0" fill="#333" text-anchor="end" transform="rotate(-90 338.77 430.30)">PT_T05</text>
<text x="361.62" y="430.30" font-size="8.0" fill="#333" text-anchor="end" transform="rotate(-90 361.62 430.30)">PB_CD4<tspan font-size="5" dy="-3">+</tspan><tspan dy="3"> T</tspan></text>
<text x="384.47" y="430.30" font-size="8.0" fill="#333" text-anchor="end" transform="rotate(-90 384.47 430.30)">LN_CD4<tspan font-size="5" dy="-3">+</tspan><tspan dy="3"> T</tspan></text>
<text x="0.80" y="497.00" font-size="12.4" fill="#111" text-anchor="start" font-weight="bold">e</text>
<text x="110.35" y="501.70" font-size="9.5" fill="#333" text-anchor="middle">T02 in ascites-T05</text>
<line x1="67.70" y1="510.60" x2="67.70" y2="641.40" stroke="#9a9a9a" stroke-width="0.9"/>
<line x1="67.30" y1="641.00" x2="154.40" y2="641.00" stroke="#9a9a9a" stroke-width="0.9"/>
<line x1="64.30" y1="641.00" x2="67.70" y2="641.00" stroke="#9a9a9a" stroke-width="0.8"/>
<text x="61.00" y="643.80" font-size="7.9" fill="#444" text-anchor="end">0</text>
<line x1="64.30" y1="615.02" x2="67.70" y2="615.02" stroke="#9a9a9a" stroke-width="0.8"/>
<text x="61.00" y="617.82" font-size="7.9" fill="#444" text-anchor="end">0.002</text>
<line x1="64.30" y1="589.04" x2="67.70" y2="589.04" stroke="#9a9a9a" stroke-width="0.8"/>
<text x="61.00" y="591.84" font-size="7.9" fill="#444" text-anchor="end">0.004</text>
<line x1="64.30" y1="563.06" x2="67.70" y2="563.06" stroke="#9a9a9a" stroke-width="0.8"/>
<text x="61.00" y="565.86" font-size="7.9" fill="#444" text-anchor="end">0.006</text>
<line x1="64.30" y1="537.08" x2="67.70" y2="537.08" stroke="#9a9a9a" stroke-width="0.8"/>
<text x="61.00" y="539.88" font-size="7.9" fill="#444" text-anchor="end">0.008</text>
<line x1="64.30" y1="511.10" x2="67.70" y2="511.10" stroke="#9a9a9a" stroke-width="0.8"/>
<text x="61.00" y="513.90" font-size="7.9" fill="#444" text-anchor="end">0.010</text>
<rect x="78.30" y="534.20" width="22.60" height="106.80" fill="#a95d73" stroke="none" stroke-width="1"/>
<rect x="121.90" y="624.90" width="23.40" height="16.10" fill="#aba283" stroke="none" stroke-width="1"/>
<line x1="89.50" y1="641.00" x2="89.50" y2="644.00" stroke="#9a9a9a" stroke-width="0.8"/>
<line x1="133.40" y1="641.00" x2="133.40" y2="644.00" stroke="#9a9a9a" stroke-width="0.8"/>
<text x="89.50" y="654.30" font-size="8.6" fill="#333" text-anchor="middle">MT</text>
<text x="133.40" y="654.30" font-size="8.6" fill="#333" text-anchor="middle">PT</text>
<line x1="67.70" y1="658.00" x2="154.30" y2="658.00" stroke="#8a8a8a" stroke-width="1.3"/>
<text x="110.00" y="667.70" font-size="8.6" fill="#333" text-anchor="middle">T05 (T<tspan font-size="6.02" dy="2.41">H</tspan><tspan dy="-2.41">1-like)</tspan></text>
<rect x="126.10" y="516.20" width="11.30" height="7.60" fill="#a95d73" stroke="none" stroke-width="1"/>
<text x="142.30" y="523.30" font-size="8.3" fill="#333" text-anchor="start">T05-MT</text>
<rect x="126.10" y="527.60" width="11.30" height="7.60" fill="#aba283" stroke="none" stroke-width="1"/>
<text x="142.30" y="534.70" font-size="8.3" fill="#333" text-anchor="start">T05-PT</text>
<text x="23.80" y="576.30" font-size="8.8" fill="#333" text-anchor="middle" transform="rotate(-90 23.80 576.30)">Adjusted TCR sharing index by</text>
<text x="33.30" y="579.00" font-size="8.8" fill="#333" text-anchor="middle" transform="rotate(-90 33.30 579.00)" textLength="59.5" lengthAdjust="spacingAndGlyphs">T02 in ascites</text>
<text x="246.60" y="496.90" font-size="12.4" fill="#111" text-anchor="start" font-weight="bold">f</text>
<line x1="280.30" y1="511.80" x2="280.30" y2="641.80" stroke="#9a9a9a" stroke-width="0.9"/>
<line x1="278.70" y1="641.40" x2="369.80" y2="641.40" stroke="#9a9a9a" stroke-width="0.9"/>
<line x1="277.30" y1="641.30" x2="280.30" y2="641.30" stroke="#9a9a9a" stroke-width="0.8"/>
<text x="274.00" y="644.10" font-size="7.9" fill="#444" text-anchor="end">0</text>
<line x1="277.30" y1="577.20" x2="280.30" y2="577.20" stroke="#9a9a9a" stroke-width="0.8"/>
<text x="274.00" y="580.00" font-size="7.9" fill="#444" text-anchor="end">0.2</text>
<line x1="277.30" y1="513.10" x2="280.30" y2="513.10" stroke="#9a9a9a" stroke-width="0.8"/>
<text x="274.00" y="515.90" font-size="7.9" fill="#444" text-anchor="end">0.4</text>
<line x1="308.20" y1="540.60" x2="308.20" y2="522.70" stroke="#b5587a" stroke-width="1.4"/>
<line x1="308.20" y1="632.90" x2="308.20" y2="635.80" stroke="#b5587a" stroke-width="1.4"/>
<rect x="296.10" y="540.60" width="24.20" height="92.30" fill="none" stroke="#b5587a" stroke-width="1.4"/>
<line x1="296.10" y1="609.00" x2="320.30" y2="609.00" stroke="#b5587a" stroke-width="1.4"/>
<line x1="302.20" y1="522.70" x2="314.10" y2="522.70" stroke="#b5587a" stroke-width="1.4"/>
<line x1="302.20" y1="635.80" x2="314.10" y2="635.80" stroke="#b5587a" stroke-width="1.4"/>
<circle cx="308.20" cy="522.70" r="1.70" fill="#b5587a" stroke="none" stroke-width="1"/>
<circle cx="308.20" cy="592.90" r="1.70" fill="#b5587a" stroke="none" stroke-width="1"/>
<circle cx="308.20" cy="625.10" r="1.70" fill="#b5587a" stroke="none" stroke-width="1"/>
<circle cx="308.20" cy="636.00" r="1.70" fill="#b5587a" stroke="none" stroke-width="1"/>
<line x1="345.00" y1="629.10" x2="345.00" y2="610.90" stroke="#ada47f" stroke-width="1.4"/>
<line x1="345.00" y1="635.30" x2="345.00" y2="641.40" stroke="#ada47f" stroke-width="1.4"/>
<rect x="332.80" y="629.10" width="24.40" height="6.20" fill="#ada47f" stroke="#ada47f" stroke-width="1.4"/>
<line x1="332.80" y1="632.20" x2="357.20" y2="632.20" stroke="#ada47f" stroke-width="1.4"/>
<line x1="339.10" y1="610.90" x2="350.90" y2="610.90" stroke="#ada47f" stroke-width="1.4"/>
<line x1="339.10" y1="641.40" x2="350.90" y2="641.40" stroke="#ada47f" stroke-width="1.4"/>
<line x1="335.70" y1="631.00" x2="338.30" y2="631.00" stroke="#f2efe2" stroke-width="0.7"/>
<line x1="339.70" y1="632.50" x2="342.30" y2="632.50" stroke="#f2efe2" stroke-width="0.7"/>
<line x1="344.70" y1="630.60" x2="347.30" y2="630.60" stroke="#f2efe2" stroke-width="0.7"/>
<line x1="348.70" y1="633.00" x2="351.30" y2="633.00" stroke="#f2efe2" stroke-width="0.7"/>
<line x1="352.20" y1="631.50" x2="354.80" y2="631.50" stroke="#f2efe2" stroke-width="0.7"/>
<line x1="342.20" y1="633.80" x2="344.80" y2="633.80" stroke="#f2efe2" stroke-width="0.7"/>
<circle cx="345.00" cy="626.50" r="1.60" fill="#ada47f" stroke="none" stroke-width="1"/>
<circle cx="351.10" cy="636.70" r="1.60" fill="#ada47f" stroke="none" stroke-width="1"/>
<circle cx="345.00" cy="637.60" r="1.60" fill="#ada47f" stroke="none" stroke-width="1"/>
<circle cx="345.00" cy="641.40" r="1.60" fill="#ada47f" stroke="none" stroke-width="1"/>
<text x="326.60" y="512.00" font-size="8.7" fill="#333" text-anchor="middle">*<tspan font-style="italic">P</tspan> = 0.037</text>
<line x1="308.00" y1="514.90" x2="345.00" y2="514.90" stroke="#333" stroke-width="1.2"/>
<line x1="285.40" y1="654.20" x2="285.40" y2="664.50" stroke="#b5587a" stroke-width="1.2"/>
<rect x="279.70" y="656.40" width="11.40" height="5.90" fill="#fff" stroke="#b5587a" stroke-width="1.2"/>
<line x1="279.70" y1="659.30" x2="291.10" y2="659.30" stroke="#b5587a" stroke-width="1.2"/>
<text x="296.10" y="662.10" font-size="8.8" fill="#333" text-anchor="start">Met.Ome</text>
<line x1="346.70" y1="654.20" x2="346.70" y2="664.50" stroke="#ada47f" stroke-width="1.2"/>
<rect x="341.00" y="656.40" width="11.40" height="5.90" fill="#fff" stroke="#ada47f" stroke-width="1.2"/>
<line x1="341.00" y1="659.30" x2="352.40" y2="659.30" stroke="#ada47f" stroke-width="1.2"/>
<text x="357.40" y="662.10" font-size="8.8" fill="#333" text-anchor="start">Pri.OT</text>
<text x="256.20" y="576.60" font-size="8.8" fill="#333" text-anchor="middle" transform="rotate(-90 256.20 576.60)">T05 (T<tspan font-size="6.16" dy="2.46">H</tspan><tspan dy="-2.46">1-like) ratio in CD4</tspan><tspan font-size="5.46" dy="-3.34">+</tspan><tspan dy="3.34"> T cells</tspan></text>
<text x="431.30" y="250.50" font-size="12.4" fill="#111" text-anchor="start" font-weight="bold">g</text>
<text x="541.70" y="248.90" font-size="8.7" fill="#333" text-anchor="start">CD8<tspan font-size="5.39" dy="-3.31">+</tspan><tspan dy="3.31"> T cells</tspan></text>
<path d="M447.9,265.2 Q447.9,255.2 457.9,255.2 L673.5,255.2 Q683.5,255.2 683.5,265.2 L683.5,334.0 L682.0,338.5 L678.0,341.0 L667.6,343.4 L650.0,345.6 L625.0,346.2 L606.0,345.6 L590.7,344.0 L578.0,339.8 L567.3,335.3 L554.2,330.9 L540.0,328.0 L525.0,326.5 L510.0,326.6 L497.6,327.2 L488.0,328.6 L480.0,330.5 L470.0,334.0 L462.0,337.6 L457.0,339.2 L452.0,338.6 L448.8,336.0 L447.9,332.0 Z" fill="#faf6e4" stroke="#f0ce80" stroke-width="2.1" stroke-linejoin="round"/>
<path d="M448.6,424.8 L448.6,357.0 L449.5,351.5 L452.5,348.6 L462.0,344.0 L474.2,339.3 L486.0,335.6 L497.6,332.9 L511.0,331.6 L525.0,331.6 L538.0,332.8 L548.0,334.8 L553.5,337.0 L556.6,339.6 L557.6,343.0 L557.6,424.8 Q557.6,434.8 547.6,434.8 L458.6,434.8 Q448.6,434.8 448.6,424.8 Z" fill="#fff" stroke="#ab7d81" stroke-width="2" stroke-linejoin="round"/>
<path d="M566.4,424.6 L566.4,345.0 L566.8,342.5 L569.0,341.5 L576.1,344.0 L585.9,347.3 L600.0,349.4 L616.5,350.6 L632.0,351.2 L647.2,350.8 L661.3,349.4 L671.7,347.3 L679.0,345.6 L682.6,345.6 L684.0,348.5 L684.0,424.6 Q684.0,434.6 674.0,434.6 L576.4,434.6 Q566.4,434.6 566.4,424.6 Z" fill="#fff" stroke="#ab7d81" stroke-width="2" stroke-linejoin="round"/>
<polygon points="463.95,357.10 463.62,357.89 462.99,358.54 462.67,359.20 462.71,360.05 462.61,360.94 462.00,361.50 461.09,361.64 460.33,361.82 459.79,362.39 459.21,363.11 458.42,363.36 457.60,363.00 456.88,362.54 456.16,362.49 455.28,362.71 454.43,362.60 453.90,361.92 453.65,361.05 453.25,360.44 452.49,360.05 451.77,359.52 451.59,358.71 451.92,357.85 452.15,357.10 451.92,356.35 451.59,355.49 451.77,354.68 452.49,354.15 453.25,353.76 453.65,353.15 453.90,352.28 454.43,351.60 455.28,351.49 456.16,351.71 456.88,351.66 457.60,351.20 458.42,350.84 459.21,351.09 459.79,351.81 460.33,352.38 461.09,352.56 462.00,352.70 462.61,353.26 462.71,354.15 462.67,355.00 462.99,355.66 463.62,356.31" fill="#f1e6e7"/>
<circle cx="457.60" cy="357.10" r="2.80" fill="#e6d8da" stroke="none" stroke-width="1"/>
<polygon points="463.95,370.20 463.62,370.99 462.99,371.64 462.67,372.30 462.71,373.15 462.61,374.04 462.00,374.60 461.09,374.74 460.33,374.92 459.79,375.49 459.21,376.21 458.42,376.46 457.60,376.10 456.88,375.64 456.16,375.59 455.28,375.81 454.43,375.70 453.90,375.02 453.65,374.15 453.25,373.54 452.49,373.15 451.77,372.62 451.59,371.81 451.92,370.95 452.15,370.20 451.92,369.45 451.59,368.59 451.77,367.78 452.49,367.25 453.25,366.86 453.65,366.25 453.90,365.38 454.43,364.70 455.28,364.59 456.16,364.81 456.88,364.76 457.60,364.30 458.42,363.94 459.21,364.19 459.79,364.91 460.33,365.48 461.09,365.66 462.00,365.80 462.61,366.36 462.71,367.25 462.67,368.10 462.99,368.76 463.62,369.41" fill="#f1e6e7"/>
<circle cx="457.60" cy="370.20" r="2.80" fill="#e6d8da" stroke="none" stroke-width="1"/>
<polygon points="463.95,383.00 463.62,383.79 462.99,384.44 462.67,385.10 462.71,385.95 462.61,386.84 462.00,387.40 461.09,387.54 460.33,387.72 459.79,388.29 459.21,389.01 458.42,389.26 457.60,388.90 456.88,388.44 456.16,388.39 455.28,388.61 454.43,388.50 453.90,387.82 453.65,386.95 453.25,386.34 452.49,385.95 451.77,385.42 451.59,384.61 451.92,383.75 452.15,383.00 451.92,382.25 451.59,381.39 451.77,380.58 452.49,380.05 453.25,379.66 453.65,379.05 453.90,378.18 454.43,377.50 455.28,377.39 456.16,377.61 456.88,377.56 457.60,377.10 458.42,376.74 459.21,376.99 459.79,377.71 460.33,378.28 461.09,378.46 462.00,378.60 462.61,379.16 462.71,380.05 462.67,380.90 462.99,381.56 463.62,382.21" fill="#f1e6e7"/>
<circle cx="457.60" cy="383.00" r="2.80" fill="#e6d8da" stroke="none" stroke-width="1"/>
<polygon points="463.95,396.00 463.62,396.79 462.99,397.44 462.67,398.10 462.71,398.95 462.61,399.84 462.00,400.40 461.09,400.54 460.33,400.72 459.79,401.29 459.21,402.01 458.42,402.26 457.60,401.90 456.88,401.44 456.16,401.39 455.28,401.61 454.43,401.50 453.90,400.82 453.65,399.95 453.25,399.34 452.49,398.95 451.77,398.42 451.59,397.61 451.92,396.75 452.15,396.00 451.92,395.25 451.59,394.39 451.77,393.58 452.49,393.05 453.25,392.66 453.65,392.05 453.90,391.18 454.43,390.50 455.28,390.39 456.16,390.61 456.88,390.56 457.60,390.10 458.42,389.74 459.21,389.99 459.79,390.71 460.33,391.28 461.09,391.46 462.00,391.60 462.61,392.16 462.71,393.05 462.67,393.90 462.99,394.56 463.62,395.21" fill="#f1e6e7"/>
<circle cx="457.60" cy="396.00" r="2.80" fill="#e6d8da" stroke="none" stroke-width="1"/>
<polygon points="463.95,409.20 463.62,409.99 462.99,410.64 462.67,411.30 462.71,412.15 462.61,413.04 462.00,413.60 461.09,413.74 460.33,413.92 459.79,414.49 459.21,415.21 458.42,415.46 457.60,415.10 456.88,414.64 456.16,414.59 455.28,414.81 454.43,414.70 453.90,414.02 453.65,413.15 453.25,412.54 452.49,412.15 451.77,411.62 451.59,410.81 451.92,409.95 452.15,409.20 451.92,408.45 451.59,407.59 451.77,406.78 452.49,406.25 453.25,405.86 453.65,405.25 453.90,404.38 454.43,403.70 455.28,403.59 456.16,403.81 456.88,403.76 457.60,403.30 458.42,402.94 459.21,403.19 459.79,403.91 460.33,404.48 461.09,404.66 462.00,404.80 462.61,405.36 462.71,406.25 462.67,407.10 462.99,407.76 463.62,408.41" fill="#f1e6e7"/>
<circle cx="457.60" cy="409.20" r="2.80" fill="#e6d8da" stroke="none" stroke-width="1"/>
<polygon points="463.95,421.60 463.62,422.39 462.99,423.04 462.67,423.70 462.71,424.55 462.61,425.44 462.00,426.00 461.09,426.14 460.33,426.32 459.79,426.89 459.21,427.61 458.42,427.86 457.60,427.50 456.88,427.04 456.16,426.99 455.28,427.21 454.43,427.10 453.90,426.42 453.65,425.55 453.25,424.94 452.49,424.55 451.77,424.02 451.59,423.21 451.92,422.35 452.15,421.60 451.92,420.85 451.59,419.99 451.77,419.18 452.49,418.65 453.25,418.26 453.65,417.65 453.90,416.78 454.43,416.10 455.28,415.99 456.16,416.21 456.88,416.16 457.60,415.70 458.42,415.34 459.21,415.59 459.79,416.31 460.33,416.88 461.09,417.06 462.00,417.20 462.61,417.76 462.71,418.65 462.67,419.50 462.99,420.16 463.62,420.81" fill="#f1e6e7"/>
<circle cx="457.60" cy="421.60" r="2.80" fill="#e6d8da" stroke="none" stroke-width="1"/>
<polygon points="475.65,427.30 475.32,428.09 474.69,428.74 474.37,429.40 474.41,430.25 474.31,431.14 473.70,431.70 472.79,431.84 472.03,432.02 471.49,432.59 470.91,433.31 470.12,433.56 469.30,433.20 468.58,432.74 467.86,432.69 466.98,432.91 466.12,432.80 465.60,432.12 465.35,431.25 464.95,430.64 464.19,430.25 463.47,429.72 463.29,428.91 463.62,428.05 463.85,427.30 463.62,426.55 463.29,425.69 463.47,424.88 464.19,424.35 464.95,423.96 465.35,423.35 465.60,422.48 466.12,421.80 466.98,421.69 467.86,421.91 468.58,421.86 469.30,421.40 470.12,421.04 470.91,421.29 471.49,422.01 472.03,422.58 472.79,422.76 473.70,422.90 474.31,423.46 474.41,424.35 474.37,425.20 474.69,425.86 475.32,426.51" fill="#f1e6e7"/>
<circle cx="469.30" cy="427.30" r="2.80" fill="#e6d8da" stroke="none" stroke-width="1"/>
<polygon points="488.65,427.30 488.32,428.09 487.69,428.74 487.37,429.40 487.41,430.25 487.31,431.14 486.70,431.70 485.79,431.84 485.03,432.02 484.49,432.59 483.91,433.31 483.12,433.56 482.30,433.20 481.58,432.74 480.86,432.69 479.98,432.91 479.12,432.80 478.60,432.12 478.35,431.25 477.95,430.64 477.19,430.25 476.47,429.72 476.29,428.91 476.62,428.05 476.85,427.30 476.62,426.55 476.29,425.69 476.47,424.88 477.19,424.35 477.95,423.96 478.35,423.35 478.60,422.48 479.12,421.80 479.98,421.69 480.86,421.91 481.58,421.86 482.30,421.40 483.12,421.04 483.91,421.29 484.49,422.01 485.03,422.58 485.79,422.76 486.70,422.90 487.31,423.46 487.41,424.35 487.37,425.20 487.69,425.86 488.32,426.51" fill="#f1e6e7"/>
<circle cx="482.30" cy="427.30" r="2.80" fill="#e6d8da" stroke="none" stroke-width="1"/>
<polygon points="529.55,427.30 529.22,428.09 528.59,428.74 528.27,429.40 528.31,430.25 528.21,431.14 527.60,431.70 526.69,431.84 525.93,432.02 525.39,432.59 524.81,433.31 524.02,433.56 523.20,433.20 522.48,432.74 521.76,432.69 520.88,432.91 520.03,432.80 519.50,432.12 519.25,431.25 518.85,430.64 518.09,430.25 517.37,429.72 517.19,428.91 517.52,428.05 517.75,427.30 517.52,426.55 517.19,425.69 517.37,424.88 518.09,424.35 518.85,423.96 519.25,423.35 519.50,422.48 520.03,421.80 520.88,421.69 521.76,421.91 522.48,421.86 523.20,421.40 524.02,421.04 524.81,421.29 525.39,422.01 525.93,422.58 526.69,422.76 527.60,422.90 528.21,423.46 528.31,424.35 528.27,425.20 528.59,425.86 529.22,426.51" fill="#f1e6e7"/>
<circle cx="523.20" cy="427.30" r="2.80" fill="#e6d8da" stroke="none" stroke-width="1"/>
<polygon points="543.65,427.30 543.32,428.09 542.69,428.74 542.37,429.40 542.41,430.25 542.31,431.14 541.70,431.70 540.79,431.84 540.02,432.02 539.49,432.59 538.91,433.31 538.12,433.56 537.30,433.20 536.58,432.74 535.86,432.69 534.98,432.91 534.12,432.80 533.60,432.12 533.35,431.25 532.95,430.64 532.19,430.25 531.47,429.72 531.29,428.91 531.62,428.05 531.85,427.30 531.62,426.55 531.29,425.69 531.47,424.88 532.19,424.35 532.95,423.96 533.35,423.35 533.60,422.48 534.12,421.80 534.98,421.69 535.86,421.91 536.58,421.86 537.30,421.40 538.12,421.04 538.91,421.29 539.49,422.01 540.02,422.58 540.79,422.76 541.70,422.90 542.31,423.46 542.41,424.35 542.37,425.20 542.69,425.86 543.32,426.51" fill="#f1e6e7"/>
<circle cx="537.30" cy="427.30" r="2.80" fill="#e6d8da" stroke="none" stroke-width="1"/>
<polygon points="556.75,419.60 556.42,420.39 555.79,421.04 555.47,421.70 555.51,422.55 555.41,423.44 554.80,424.00 553.89,424.14 553.12,424.32 552.59,424.89 552.01,425.61 551.22,425.86 550.40,425.50 549.68,425.04 548.96,424.99 548.08,425.21 547.23,425.10 546.70,424.42 546.45,423.55 546.05,422.94 545.29,422.55 544.57,422.02 544.39,421.21 544.72,420.35 544.95,419.60 544.72,418.85 544.39,417.99 544.57,417.18 545.29,416.65 546.05,416.26 546.45,415.65 546.70,414.78 547.23,414.10 548.08,413.99 548.96,414.21 549.68,414.16 550.40,413.70 551.22,413.34 552.01,413.59 552.59,414.31 553.12,414.88 553.89,415.06 554.80,415.20 555.41,415.76 555.51,416.65 555.47,417.50 555.79,418.16 556.42,418.81" fill="#f1e6e7"/>
<circle cx="550.40" cy="419.60" r="2.80" fill="#e6d8da" stroke="none" stroke-width="1"/>
<polygon points="680.95,355.00 680.62,355.79 679.99,356.44 679.67,357.10 679.71,357.95 679.61,358.84 679.00,359.40 678.09,359.54 677.33,359.72 676.79,360.29 676.21,361.01 675.42,361.26 674.60,360.90 673.88,360.44 673.16,360.39 672.28,360.61 671.43,360.50 670.90,359.82 670.65,358.95 670.25,358.34 669.49,357.95 668.77,357.42 668.59,356.61 668.92,355.75 669.15,355.00 668.92,354.25 668.59,353.39 668.77,352.58 669.49,352.05 670.25,351.66 670.65,351.05 670.90,350.18 671.43,349.50 672.28,349.39 673.16,349.61 673.88,349.56 674.60,349.10 675.42,348.74 676.21,348.99 676.79,349.71 677.33,350.28 678.09,350.46 679.00,350.60 679.61,351.16 679.71,352.05 679.67,352.90 679.99,353.56 680.62,354.21" fill="#f1e6e7"/>
<circle cx="674.60" cy="355.00" r="2.80" fill="#e6d8da" stroke="none" stroke-width="1"/>
<polygon points="680.95,368.70 680.62,369.49 679.99,370.14 679.67,370.80 679.71,371.65 679.61,372.54 679.00,373.10 678.09,373.24 677.33,373.42 676.79,373.99 676.21,374.71 675.42,374.96 674.60,374.60 673.88,374.14 673.16,374.09 672.28,374.31 671.43,374.20 670.90,373.52 670.65,372.65 670.25,372.04 669.49,371.65 668.77,371.12 668.59,370.31 668.92,369.45 669.15,368.70 668.92,367.95 668.59,367.09 668.77,366.28 669.49,365.75 670.25,365.36 670.65,364.75 670.90,363.88 671.43,363.20 672.28,363.09 673.16,363.31 673.88,363.26 674.60,362.80 675.42,362.44 676.21,362.69 676.79,363.41 677.33,363.98 678.09,364.16 679.00,364.30 679.61,364.86 679.71,365.75 679.67,366.60 679.99,367.26 680.62,367.91" fill="#f1e6e7"/>
<circle cx="674.60" cy="368.70" r="2.80" fill="#e6d8da" stroke="none" stroke-width="1"/>
<polygon points="680.95,381.90 680.62,382.69 679.99,383.34 679.67,384.00 679.71,384.85 679.61,385.74 679.00,386.30 678.09,386.44 677.33,386.62 676.79,387.19 676.21,387.91 675.42,388.16 674.60,387.80 673.88,387.34 673.16,387.29 672.28,387.51 671.43,387.40 670.90,386.72 670.65,385.85 670.25,385.24 669.49,384.85 668.77,384.32 668.59,383.51 668.92,382.65 669.15,381.90 668.92,381.15 668.59,380.29 668.77,379.48 669.49,378.95 670.25,378.56 670.65,377.95 670.90,377.08 671.43,376.40 672.28,376.29 673.16,376.51 673.88,376.46 674.60,376.00 675.42,375.64 676.21,375.89 676.79,376.61 677.33,377.18 678.09,377.36 679.00,377.50 679.61,378.06 679.71,378.95 679.67,379.80 679.99,380.46 680.62,381.11" fill="#f1e6e7"/>
<circle cx="674.60" cy="381.90" r="2.80" fill="#e6d8da" stroke="none" stroke-width="1"/>
<polygon points="680.95,396.00 680.62,396.79 679.99,397.44 679.67,398.10 679.71,398.95 679.61,399.84 679.00,400.40 678.09,400.54 677.33,400.72 676.79,401.29 676.21,402.01 675.42,402.26 674.60,401.90 673.88,401.44 673.16,401.39 672.28,401.61 671.43,401.50 670.90,400.82 670.65,399.95 670.25,399.34 669.49,398.95 668.77,398.42 668.59,397.61 668.92,396.75 669.15,396.00 668.92,395.25 668.59,394.39 668.77,393.58 669.49,393.05 670.25,392.66 670.65,392.05 670.90,391.18 671.43,390.50 672.28,390.39 673.16,390.61 673.88,390.56 674.60,390.10 675.42,389.74 676.21,389.99 676.79,390.71 677.33,391.28 678.09,391.46 679.00,391.60 679.61,392.16 679.71,393.05 679.67,393.90 679.99,394.56 680.62,395.21" fill="#f1e6e7"/>
<circle cx="674.60" cy="396.00" r="2.80" fill="#e6d8da" stroke="none" stroke-width="1"/>
<polygon points="680.95,410.80 680.62,411.59 679.99,412.24 679.67,412.90 679.71,413.75 679.61,414.64 679.00,415.20 678.09,415.34 677.33,415.52 676.79,416.09 676.21,416.81 675.42,417.06 674.60,416.70 673.88,416.24 673.16,416.19 672.28,416.41 671.43,416.30 670.90,415.62 670.65,414.75 670.25,414.14 669.49,413.75 668.77,413.22 668.59,412.41 668.92,411.55 669.15,410.80 668.92,410.05 668.59,409.19 668.77,408.38 669.49,407.85 670.25,407.46 670.65,406.85 670.90,405.98 671.43,405.30 672.28,405.19 673.16,405.41 673.88,405.36 674.60,404.90 675.42,404.54 676.21,404.79 676.79,405.51 677.33,406.08 678.09,406.26 679.00,406.40 679.61,406.96 679.71,407.85 679.67,408.70 679.99,409.36 680.62,410.01" fill="#f1e6e7"/>
<circle cx="674.60" cy="410.80" r="2.80" fill="#e6d8da" stroke="none" stroke-width="1"/>
<polygon points="680.95,425.80 680.62,426.59 679.99,427.24 679.67,427.90 679.71,428.75 679.61,429.64 679.00,430.20 678.09,430.34 677.33,430.52 676.79,431.09 676.21,431.81 675.42,432.06 674.60,431.70 673.88,431.24 673.16,431.19 672.28,431.41 671.43,431.30 670.90,430.62 670.65,429.75 670.25,429.14 669.49,428.75 668.77,428.22 668.59,427.41 668.92,426.55 669.15,425.80 668.92,425.05 668.59,424.19 668.77,423.38 669.49,422.85 670.25,422.46 670.65,421.85 670.90,420.98 671.43,420.30 672.28,420.19 673.16,420.41 673.88,420.36 674.60,419.90 675.42,419.54 676.21,419.79 676.79,420.51 677.33,421.08 678.09,421.26 679.00,421.40 679.61,421.96 679.71,422.85 679.67,423.70 679.99,424.36 680.62,425.01" fill="#f1e6e7"/>
<circle cx="674.60" cy="425.80" r="2.80" fill="#e6d8da" stroke="none" stroke-width="1"/>
<polygon points="580.15,417.10 579.82,417.89 579.19,418.54 578.87,419.20 578.91,420.05 578.81,420.94 578.20,421.50 577.29,421.64 576.52,421.82 575.99,422.39 575.41,423.11 574.62,423.36 573.80,423.00 573.08,422.54 572.36,422.49 571.48,422.71 570.62,422.60 570.10,421.92 569.85,421.05 569.45,420.44 568.69,420.05 567.97,419.52 567.79,418.71 568.12,417.85 568.35,417.10 568.12,416.35 567.79,415.49 567.97,414.68 568.69,414.15 569.45,413.76 569.85,413.15 570.10,412.28 570.62,411.60 571.48,411.49 572.36,411.71 573.08,411.66 573.80,411.20 574.62,410.84 575.41,411.09 575.99,411.81 576.52,412.38 577.29,412.56 578.20,412.70 578.81,413.26 578.91,414.15 578.87,415.00 579.19,415.66 579.82,416.31" fill="#f1e6e7"/>
<circle cx="573.80" cy="417.10" r="2.80" fill="#e6d8da" stroke="none" stroke-width="1"/>
<polygon points="589.95,426.30 589.62,427.09 588.99,427.74 588.67,428.40 588.71,429.25 588.61,430.14 588.00,430.70 587.09,430.84 586.33,431.02 585.79,431.59 585.21,432.31 584.42,432.56 583.60,432.20 582.88,431.74 582.16,431.69 581.28,431.91 580.43,431.80 579.90,431.12 579.65,430.25 579.25,429.64 578.49,429.25 577.77,428.72 577.59,427.91 577.92,427.05 578.15,426.30 577.92,425.55 577.59,424.69 577.77,423.88 578.49,423.35 579.25,422.96 579.65,422.35 579.90,421.48 580.43,420.80 581.28,420.69 582.16,420.91 582.88,420.86 583.60,420.40 584.42,420.04 585.21,420.29 585.79,421.01 586.33,421.58 587.09,421.76 588.00,421.90 588.61,422.46 588.71,423.35 588.67,424.20 588.99,424.86 589.62,425.51" fill="#f1e6e7"/>
<circle cx="583.60" cy="426.30" r="2.80" fill="#e6d8da" stroke="none" stroke-width="1"/>
<polygon points="605.35,426.30 605.02,427.09 604.39,427.74 604.07,428.40 604.11,429.25 604.01,430.14 603.40,430.70 602.49,430.84 601.73,431.02 601.19,431.59 600.61,432.31 599.82,432.56 599.00,432.20 598.28,431.74 597.56,431.69 596.68,431.91 595.83,431.80 595.30,431.12 595.05,430.25 594.65,429.64 593.89,429.25 593.17,428.72 592.99,427.91 593.32,427.05 593.55,426.30 593.32,425.55 592.99,424.69 593.17,423.88 593.89,423.35 594.65,422.96 595.05,422.35 595.30,421.48 595.83,420.80 596.68,420.69 597.56,420.91 598.28,420.86 599.00,420.40 599.82,420.04 600.61,420.29 601.19,421.01 601.73,421.58 602.49,421.76 603.40,421.90 604.01,422.46 604.11,423.35 604.07,424.20 604.39,424.86 605.02,425.51" fill="#f1e6e7"/>
<circle cx="599.00" cy="426.30" r="2.80" fill="#e6d8da" stroke="none" stroke-width="1"/>
<polygon points="656.65,426.70 656.32,427.49 655.69,428.14 655.37,428.80 655.41,429.65 655.31,430.54 654.70,431.10 653.79,431.24 653.02,431.42 652.49,431.99 651.91,432.71 651.12,432.96 650.30,432.60 649.58,432.14 648.86,432.09 647.98,432.31 647.12,432.20 646.60,431.52 646.35,430.65 645.95,430.04 645.19,429.65 644.47,429.12 644.29,428.31 644.62,427.45 644.85,426.70 644.62,425.95 644.29,425.09 644.47,424.28 645.19,423.75 645.95,423.36 646.35,422.75 646.60,421.88 647.12,421.20 647.98,421.09 648.86,421.31 649.58,421.26 650.30,420.80 651.12,420.44 651.91,420.69 652.49,421.41 653.02,421.98 653.79,422.16 654.70,422.30 655.31,422.86 655.41,423.75 655.37,424.60 655.69,425.26 656.32,425.91" fill="#f1e6e7"/>
<circle cx="650.30" cy="426.70" r="2.80" fill="#e6d8da" stroke="none" stroke-width="1"/>
<polygon points="668.75,426.70 668.42,427.49 667.79,428.14 667.47,428.80 667.51,429.65 667.41,430.54 666.80,431.10 665.89,431.24 665.12,431.42 664.59,431.99 664.01,432.71 663.22,432.96 662.40,432.60 661.68,432.14 660.96,432.09 660.08,432.31 659.23,432.20 658.70,431.52 658.45,430.65 658.05,430.04 657.29,429.65 656.57,429.12 656.39,428.31 656.72,427.45 656.95,426.70 656.72,425.95 656.39,425.09 656.57,424.28 657.29,423.75 658.05,423.36 658.45,422.75 658.70,421.88 659.23,421.20 660.08,421.09 660.96,421.31 661.68,421.26 662.40,420.80 663.22,420.44 664.01,420.69 664.59,421.41 665.12,421.98 665.89,422.16 666.80,422.30 667.41,422.86 667.51,423.75 667.47,424.60 667.79,425.26 668.42,425.91" fill="#f1e6e7"/>
<circle cx="662.40" cy="426.70" r="2.80" fill="#e6d8da" stroke="none" stroke-width="1"/>
<text x="465.40" y="264.30" font-size="7.4" fill="#a9a9ae" text-anchor="start">Other CD8<tspan font-size="4.59" dy="-2.81">+</tspan><tspan dy="2.81"> T</tspan></text>
<text x="618.00" y="336.40" font-size="7.4" fill="#a9a9ae" text-anchor="start">Other CD8<tspan font-size="4.59" dy="-2.81">+</tspan><tspan dy="2.81"> T</tspan></text>
<text x="548.00" y="268.50" font-size="7.4" fill="#a6333f" text-anchor="start">Ascites</text>
<g transform="translate(463.70 273.70) rotate(-135.0)"><rect x="5.10" y="-0.7" width="2.2" height="1.4" fill="#8a8a90"/><rect x="6.90" y="-1.80" width="6.60" height="3.60" fill="#9a9aa0"/><rect x="7.60" y="-1.30" width="0.8" height="2.60" fill="#cfcfd4"/><rect x="9.40" y="-1.30" width="0.8" height="2.60" fill="#cfcfd4"/><rect x="11.20" y="-1.30" width="0.8" height="2.60" fill="#cfcfd4"/></g>
<circle cx="463.70" cy="273.70" r="6.30" fill="#ededf1" stroke="#b7b7bf" stroke-width="0.8"/>
<circle cx="463.70" cy="273.70" r="3.70" fill="#9d9da3" stroke="none" stroke-width="1"/>
<g transform="translate(518.30 275.80) rotate(-40.0)"><rect x="5.10" y="-0.7" width="2.2" height="1.4" fill="#8a8a90"/><rect x="6.90" y="-1.80" width="6.60" height="3.60" fill="#9a9aa0"/><rect x="7.60" y="-1.30" width="0.8" height="2.60" fill="#cfcfd4"/><rect x="9.40" y="-1.30" width="0.8" height="2.60" fill="#cfcfd4"/><rect x="11.20" y="-1.30" width="0.8" height="2.60" fill="#cfcfd4"/></g>
<circle cx="518.30" cy="275.80" r="6.30" fill="#ededf1" stroke="#b7b7bf" stroke-width="0.8"/>
<circle cx="518.30" cy="275.80" r="3.70" fill="#9d9da3" stroke="none" stroke-width="1"/>
<g transform="translate(623.30 271.40) rotate(165.0)"><rect x="5.10" y="-0.7" width="2.2" height="1.4" fill="#8a8a90"/><rect x="6.90" y="-1.80" width="6.60" height="3.60" fill="#9a9aa0"/><rect x="7.60" y="-1.30" width="0.8" height="2.60" fill="#cfcfd4"/><rect x="9.40" y="-1.30" width="0.8" height="2.60" fill="#cfcfd4"/><rect x="11.20" y="-1.30" width="0.8" height="2.60" fill="#cfcfd4"/></g>
<circle cx="623.30" cy="271.40" r="6.30" fill="#ededf1" stroke="#b7b7bf" stroke-width="0.8"/>
<circle cx="623.30" cy="271.40" r="3.70" fill="#9d9da3" stroke="none" stroke-width="1"/>
<g transform="translate(661.20 271.30) rotate(-40.0)"><rect x="5.10" y="-0.7" width="2.2" height="1.4" fill="#8a8a90"/><rect x="6.90" y="-1.80" width="6.60" height="3.60" fill="#9a9aa0"/><rect x="7.60" y="-1.30" width="0.8" height="2.60" fill="#cfcfd4"/><rect x="9.40" y="-1.30" width="0.8" height="2.60" fill="#cfcfd4"/><rect x="11.20" y="-1.30" width="0.8" height="2.60" fill="#cfcfd4"/></g>
<circle cx="661.20" cy="271.30" r="6.30" fill="#ededf1" stroke="#b7b7bf" stroke-width="0.8"/>
<circle cx="661.20" cy="271.30" r="3.70" fill="#9d9da3" stroke="none" stroke-width="1"/>
<g transform="translate(459.60 328.20) rotate(-35.0)"><rect x="5.10" y="-0.7" width="2.2" height="1.4" fill="#8a8a90"/><rect x="6.90" y="-1.80" width="6.60" height="3.60" fill="#9a9aa0"/><rect x="7.60" y="-1.30" width="0.8" height="2.60" fill="#cfcfd4"/><rect x="9.40" y="-1.30" width="0.8" height="2.60" fill="#cfcfd4"/><rect x="11.20" y="-1.30" width="0.8" height="2.60" fill="#cfcfd4"/></g>
<circle cx="459.60" cy="328.20" r="6.30" fill="#ededf1" stroke="#b7b7bf" stroke-width="0.8"/>
<circle cx="459.60" cy="328.20" r="3.70" fill="#9d9da3" stroke="none" stroke-width="1"/>
<g transform="translate(671.00 330.60) rotate(-140.0)"><rect x="5.10" y="-0.7" width="2.2" height="1.4" fill="#8a8a90"/><rect x="6.90" y="-1.80" width="6.60" height="3.60" fill="#9a9aa0"/><rect x="7.60" y="-1.30" width="0.8" height="2.60" fill="#cfcfd4"/><rect x="9.40" y="-1.30" width="0.8" height="2.60" fill="#cfcfd4"/><rect x="11.20" y="-1.30" width="0.8" height="2.60" fill="#cfcfd4"/></g>
<circle cx="671.00" cy="330.60" r="6.30" fill="#ededf1" stroke="#b7b7bf" stroke-width="0.8"/>
<circle cx="671.00" cy="330.60" r="3.70" fill="#9d9da3" stroke="none" stroke-width="1"/>
<g transform="translate(477.90 298.80) rotate(140.0)"><rect x="5.10" y="-0.7" width="2.2" height="1.4" fill="#7a6646"/><rect x="6.90" y="-1.80" width="6.60" height="3.60" fill="#8c7650"/><rect x="7.60" y="-1.30" width="0.8" height="2.60" fill="#d8c48a"/><rect x="9.40" y="-1.30" width="0.8" height="2.60" fill="#d8c48a"/><rect x="11.20" y="-1.30" width="0.8" height="2.60" fill="#d8c48a"/></g>
<circle cx="477.90" cy="298.80" r="6.50" fill="#a7d8b2" stroke="#38a862" stroke-width="1.0"/>
<circle cx="477.90" cy="298.40" r="3.30" fill="#148a50" stroke="none" stroke-width="1"/>
<g transform="translate(501.30 302.50) rotate(-45.0)"><rect x="5.10" y="-0.7" width="2.2" height="1.4" fill="#7a6646"/><rect x="6.90" y="-1.80" width="6.60" height="3.60" fill="#8c7650"/><rect x="7.60" y="-1.30" width="0.8" height="2.60" fill="#d8c48a"/><rect x="9.40" y="-1.30" width="0.8" height="2.60" fill="#d8c48a"/><rect x="11.20" y="-1.30" width="0.8" height="2.60" fill="#d8c48a"/></g>
<circle cx="501.30" cy="302.50" r="6.50" fill="#a7d8b2" stroke="#38a862" stroke-width="1.0"/>
<circle cx="501.30" cy="302.10" r="3.30" fill="#148a50" stroke="none" stroke-width="1"/>
<g transform="translate(558.50 283.20) rotate(-42.0)"><rect x="5.10" y="-0.7" width="2.2" height="1.4" fill="#4a2a8c"/><rect x="6.90" y="-1.80" width="6.60" height="3.60" fill="#4a2a8c"/></g>
<circle cx="558.50" cy="283.20" r="6.40" fill="#2c9d5a" stroke="none" stroke-width="1"/>
<circle cx="558.50" cy="283.20" r="5.00" fill="none" stroke="#93d3a2" stroke-width="0.9"/>
<circle cx="558.50" cy="283.20" r="4.40" fill="#07994b" stroke="none" stroke-width="1"/>
<g transform="translate(543.40 300.30) rotate(135.0)"><rect x="5.10" y="-0.7" width="2.2" height="1.4" fill="#4a2a8c"/><rect x="6.90" y="-1.80" width="6.60" height="3.60" fill="#4a2a8c"/></g>
<circle cx="543.40" cy="300.30" r="6.40" fill="#2c9d5a" stroke="none" stroke-width="1"/>
<circle cx="543.40" cy="300.30" r="5.00" fill="none" stroke="#93d3a2" stroke-width="0.9"/>
<circle cx="543.40" cy="300.30" r="4.40" fill="#07994b" stroke="none" stroke-width="1"/>
<g transform="translate(580.20 302.00) rotate(45.0)"><rect x="5.10" y="-0.7" width="2.2" height="1.4" fill="#4a2a8c"/><rect x="6.90" y="-1.80" width="6.60" height="3.60" fill="#4a2a8c"/></g>
<circle cx="580.20" cy="302.00" r="6.40" fill="#2c9d5a" stroke="none" stroke-width="1"/>
<circle cx="580.20" cy="302.00" r="5.00" fill="none" stroke="#93d3a2" stroke-width="0.9"/>
<circle cx="580.20" cy="302.00" r="4.40" fill="#07994b" stroke="none" stroke-width="1"/>
<g transform="translate(627.10 299.10) rotate(-140.0)"><rect x="5.10" y="-0.7" width="2.2" height="1.4" fill="#7a6646"/><rect x="6.90" y="-1.80" width="6.60" height="3.60" fill="#8c7650"/><rect x="7.60" y="-1.30" width="0.8" height="2.60" fill="#d8c48a"/><rect x="9.40" y="-1.30" width="0.8" height="2.60" fill="#d8c48a"/><rect x="11.20" y="-1.30" width="0.8" height="2.60" fill="#d8c48a"/></g>
<circle cx="627.10" cy="299.10" r="6.30" fill="#c8e0c2" stroke="#b3bcb0" stroke-width="0.9"/>
<circle cx="627.10" cy="299.10" r="3.70" fill="#549b70" stroke="none" stroke-width="1"/>
<g transform="translate(653.40 303.40) rotate(-45.0)"><rect x="5.10" y="-0.7" width="2.2" height="1.4" fill="#7a6646"/><rect x="6.90" y="-1.80" width="6.60" height="3.60" fill="#8c7650"/><rect x="7.60" y="-1.30" width="0.8" height="2.60" fill="#d8c48a"/><rect x="9.40" y="-1.30" width="0.8" height="2.60" fill="#d8c48a"/><rect x="11.20" y="-1.30" width="0.8" height="2.60" fill="#d8c48a"/></g>
<circle cx="653.40" cy="303.40" r="6.30" fill="#c8e0c2" stroke="#b3bcb0" stroke-width="0.9"/>
<circle cx="653.40" cy="303.40" r="3.70" fill="#549b70" stroke="none" stroke-width="1"/>
<circle cx="570.30" cy="288.80" r="5.60" fill="none" stroke="#df3446" stroke-width="0.9" stroke-dasharray="2.1 1.7"/>
<path transform="translate(564.0 292.6) rotate(225)" d="M2.8,0 L-1.9,-2.0 L-1.1,0 L-1.9,2.0 Z" fill="#df3446"/>
<rect x="577.30" y="280.00" width="31.10" height="8.50" fill="#f7d5c6" stroke="none" stroke-width="1"/>
<text x="592.35" y="286.00" font-size="6.6" fill="#d8404f" text-anchor="middle" textLength="28.0" lengthAdjust="spacingAndGlyphs">Expansion</text>
<circle cx="639.00" cy="297.60" r="5.90" fill="none" stroke="#df3446" stroke-width="0.9" stroke-dasharray="2.1 1.7"/>
<path transform="translate(637.6 303.2) rotate(180)" d="M2.8,0 L-1.9,-2.0 L-1.1,0 L-1.9,2.0 Z" fill="#df3446"/>
<text x="482.10" y="320.60" font-size="7.6" fill="#333" text-anchor="start" textLength="9.2" lengthAdjust="spacingAndGlyphs">T<tspan font-size="5.32" dy="2.13">eff</tspan><tspan dy="-2.13"></tspan></text>
<text x="542.20" y="321.40" font-size="8.5" fill="#333" text-anchor="start" textLength="42.7" lengthAdjust="spacingAndGlyphs">GZMK<tspan font-size="5.27" dy="-3.23">+</tspan><tspan dy="3.23"> T</tspan><tspan font-size="5.95" dy="2.38">EM</tspan><tspan dy="-2.38"></tspan></text>
<text x="634.40" y="320.90" font-size="7.6" fill="#333" text-anchor="start" textLength="10.0" lengthAdjust="spacingAndGlyphs">T<tspan font-size="5.32" dy="2.13">EX</tspan><tspan dy="-2.13"></tspan></text>
<path d="M564.1,324.3 C556,329 546,336 544.6,349.8" fill="none" stroke="#c8202f" stroke-width="1.2"/>
<path transform="translate(544.3 352.3) rotate(92)" d="M2.2,0 L-2.6,-2.4 L-1.4,0 L-2.6,2.4 Z" fill="#c8202f"/>
<path d="M564.1,324.3 C571,338 578,350 590.8,357.2" fill="none" stroke="#c8202f" stroke-width="1.2"/>
<path transform="translate(592.6 358.2) rotate(30)" d="M2.2,0 L-2.6,-2.4 L-1.4,0 L-2.6,2.4 Z" fill="#c8202f"/>
<rect x="573.20" y="333.50" width="30.60" height="7.90" fill="#f7d5c6" stroke="none" stroke-width="1"/>
<text x="588.00" y="338.90" font-size="6.6" fill="#d8404f" text-anchor="middle" textLength="26.3" lengthAdjust="spacingAndGlyphs">Migration</text>
<g transform="translate(475.00 362.00) rotate(-95.0)"><rect x="5.10" y="-0.7" width="2.2" height="1.4" fill="#7a6646"/><rect x="6.90" y="-1.80" width="6.60" height="3.60" fill="#8c7650"/><rect x="7.60" y="-1.30" width="0.8" height="2.60" fill="#d8c48a"/><rect x="9.40" y="-1.30" width="0.8" height="2.60" fill="#d8c48a"/><rect x="11.20" y="-1.30" width="0.8" height="2.60" fill="#d8c48a"/></g>
<circle cx="475.00" cy="362.00" r="6.40" fill="#2c9d5a" stroke="none" stroke-width="1"/>
<circle cx="475.00" cy="362.00" r="5.00" fill="none" stroke="#93d3a2" stroke-width="0.9"/>
<circle cx="475.00" cy="362.00" r="4.40" fill="#07994b" stroke="none" stroke-width="1"/>
<g transform="translate(500.30 354.10) rotate(-95.0)"><rect x="5.10" y="-0.7" width="2.2" height="1.4" fill="#4a2a8c"/><rect x="6.90" y="-1.80" width="6.60" height="3.60" fill="#4a2a8c"/></g>
<circle cx="500.30" cy="354.10" r="6.30" fill="#c8e0c2" stroke="#b3bcb0" stroke-width="0.9"/>
<circle cx="500.30" cy="354.10" r="3.70" fill="#549b70" stroke="none" stroke-width="1"/>
<g transform="translate(523.20 348.90) rotate(-45.0)"><rect x="5.10" y="-0.7" width="2.2" height="1.4" fill="#4a2a8c"/><rect x="6.90" y="-1.80" width="6.60" height="3.60" fill="#4a2a8c"/></g>
<circle cx="523.20" cy="348.90" r="6.30" fill="#c8e0c2" stroke="#b3bcb0" stroke-width="0.9"/>
<circle cx="523.20" cy="348.90" r="3.70" fill="#549b70" stroke="none" stroke-width="1"/>
<circle cx="534.70" cy="352.20" r="5.60" fill="none" stroke="#df3446" stroke-width="0.9" stroke-dasharray="2.1 1.7"/>
<path transform="translate(532.0 356.5) rotate(200)" d="M2.8,0 L-1.9,-2.0 L-1.1,0 L-1.9,2.0 Z" fill="#df3446"/>
<text x="515.00" y="365.20" font-size="7.6" fill="#333" text-anchor="start" textLength="9.6" lengthAdjust="spacingAndGlyphs">T<tspan font-size="5.32" dy="2.13">EX</tspan><tspan dy="-2.13"></tspan></text>
<g transform="translate(541.20 366.10) rotate(-15.0)"><rect x="5.10" y="-0.7" width="2.2" height="1.4" fill="#4a2a8c"/><rect x="6.90" y="-1.80" width="6.60" height="3.60" fill="#4a2a8c"/></g>
<circle cx="541.20" cy="366.10" r="6.30" fill="#c8e0c2" stroke="#b3bcb0" stroke-width="0.9"/>
<circle cx="541.20" cy="366.10" r="3.70" fill="#549b70" stroke="none" stroke-width="1"/>
<g transform="translate(490.80 374.60) rotate(40.0)"><rect x="5.10" y="-0.7" width="2.2" height="1.4" fill="#7a6646"/><rect x="6.90" y="-1.80" width="6.60" height="3.60" fill="#8c7650"/><rect x="7.60" y="-1.30" width="0.8" height="2.60" fill="#d8c48a"/><rect x="9.40" y="-1.30" width="0.8" height="2.60" fill="#d8c48a"/><rect x="11.20" y="-1.30" width="0.8" height="2.60" fill="#d8c48a"/></g>
<circle cx="490.80" cy="374.60" r="6.40" fill="#2c9d5a" stroke="none" stroke-width="1"/>
<circle cx="490.80" cy="374.60" r="5.00" fill="none" stroke="#93d3a2" stroke-width="0.9"/>
<circle cx="490.80" cy="374.60" r="4.40" fill="#07994b" stroke="none" stroke-width="1"/>
<g transform="translate(518.30 388.80) rotate(-95.0)"><rect x="5.10" y="-0.7" width="2.2" height="1.4" fill="#7a6646"/><rect x="6.90" y="-1.80" width="6.60" height="3.60" fill="#8c7650"/><rect x="7.60" y="-1.30" width="0.8" height="2.60" fill="#d8c48a"/><rect x="9.40" y="-1.30" width="0.8" height="2.60" fill="#d8c48a"/><rect x="11.20" y="-1.30" width="0.8" height="2.60" fill="#d8c48a"/></g>
<circle cx="518.30" cy="388.80" r="6.50" fill="#2f9c5c" stroke="none" stroke-width="1"/>
<circle cx="518.30" cy="388.80" r="5.00" fill="none" stroke="#eef7ef" stroke-width="0.9"/>
<circle cx="518.30" cy="388.80" r="4.20" fill="#0a6a38" stroke="none" stroke-width="1"/>
<g transform="translate(541.60 395.20) rotate(135.0)"><rect x="5.10" y="-0.7" width="2.2" height="1.4" fill="#7a6646"/><rect x="6.90" y="-1.80" width="6.60" height="3.60" fill="#8c7650"/><rect x="7.60" y="-1.30" width="0.8" height="2.60" fill="#d8c48a"/><rect x="9.40" y="-1.30" width="0.8" height="2.60" fill="#d8c48a"/><rect x="11.20" y="-1.30" width="0.8" height="2.60" fill="#d8c48a"/></g>
<circle cx="541.60" cy="395.20" r="6.50" fill="#2f9c5c" stroke="none" stroke-width="1"/>
<circle cx="541.60" cy="395.20" r="5.00" fill="none" stroke="#eef7ef" stroke-width="0.9"/>
<circle cx="541.60" cy="395.20" r="4.20" fill="#0a6a38" stroke="none" stroke-width="1"/>
<circle cx="539.20" cy="385.80" r="5.20" fill="none" stroke="#df3446" stroke-width="0.9" stroke-dasharray="2.1 1.7"/>
<path transform="translate(541.8 389.6) rotate(95)" d="M2.8,0 L-1.9,-2.0 L-1.1,0 L-1.9,2.0 Z" fill="#df3446"/>
<g transform="translate(479.90 394.00) rotate(-120.0)"><rect x="5.10" y="-0.7" width="2.2" height="1.4" fill="#7a6646"/><rect x="6.90" y="-1.80" width="6.60" height="3.60" fill="#8c7650"/><rect x="7.60" y="-1.30" width="0.8" height="2.60" fill="#d8c48a"/><rect x="9.40" y="-1.30" width="0.8" height="2.60" fill="#d8c48a"/><rect x="11.20" y="-1.30" width="0.8" height="2.60" fill="#d8c48a"/></g>
<circle cx="479.90" cy="394.00" r="6.40" fill="#2c9d5a" stroke="none" stroke-width="1"/>
<circle cx="479.90" cy="394.00" r="5.00" fill="none" stroke="#93d3a2" stroke-width="0.9"/>
<circle cx="479.90" cy="394.00" r="4.40" fill="#07994b" stroke="none" stroke-width="1"/>
<circle cx="468.30" cy="395.30" r="5.40" fill="none" stroke="#df3446" stroke-width="0.9" stroke-dasharray="2.1 1.7"/>
<path transform="translate(473.0 400.6) rotate(-20)" d="M2.8,0 L-1.9,-2.0 L-1.1,0 L-1.9,2.0 Z" fill="#df3446"/>
<rect x="494.30" y="397.20" width="30.50" height="8.10" fill="#f7d5c6" stroke="none" stroke-width="1"/>
<text x="509.05" y="402.80" font-size="6.6" fill="#d8404f" text-anchor="middle" textLength="27.4" lengthAdjust="spacingAndGlyphs">Expansion</text>
<text x="451.60" y="411.90" font-size="7.6" fill="#333" text-anchor="start" textLength="36.4" lengthAdjust="spacingAndGlyphs">GZMK<tspan font-size="4.71" dy="-2.89">+</tspan><tspan dy="2.89"> T</tspan><tspan font-size="5.32" dy="2.13">EM</tspan><tspan dy="-2.13"></tspan></text>
<g transform="translate(504.40 414.30) rotate(-150.0)"><rect x="5.10" y="-0.7" width="2.2" height="1.4" fill="#8a8a90"/><rect x="6.90" y="-1.80" width="6.60" height="3.60" fill="#9a9aa0"/><rect x="7.60" y="-1.30" width="0.8" height="2.60" fill="#cfcfd4"/><rect x="9.40" y="-1.30" width="0.8" height="2.60" fill="#cfcfd4"/><rect x="11.20" y="-1.30" width="0.8" height="2.60" fill="#cfcfd4"/></g>
<circle cx="504.40" cy="414.30" r="6.30" fill="#ededf1" stroke="#b7b7bf" stroke-width="0.8"/>
<circle cx="504.40" cy="414.30" r="3.70" fill="#9d9da3" stroke="none" stroke-width="1"/>
<text x="514.70" y="417.30" font-size="7.6" fill="#333" text-anchor="start" textLength="36.3" lengthAdjust="spacingAndGlyphs">ANXA<tspan font-size="4.71" dy="-2.89">+</tspan><tspan dy="2.89"> T</tspan><tspan font-size="5.32" dy="2.13">EM</tspan><tspan dy="-2.13"></tspan></text>
<text x="504.50" y="429.90" font-size="7.6" fill="#a6333f" text-anchor="middle" textLength="20.4" lengthAdjust="spacingAndGlyphs">Pri.OT</text>
<g transform="translate(599.50 370.40) rotate(-135.0)"><rect x="5.10" y="-0.7" width="2.2" height="1.4" fill="#4a2a8c"/><rect x="6.90" y="-1.80" width="6.60" height="3.60" fill="#4a2a8c"/></g>
<circle cx="599.50" cy="370.40" r="6.30" fill="#c8e0c2" stroke="#b3bcb0" stroke-width="0.9"/>
<circle cx="599.50" cy="370.40" r="3.70" fill="#549b70" stroke="none" stroke-width="1"/>
<g transform="translate(628.50 368.30) rotate(-88.0)"><rect x="5.10" y="-0.7" width="2.2" height="1.4" fill="#4a2a8c"/><rect x="6.90" y="-1.80" width="6.60" height="3.60" fill="#4a2a8c"/></g>
<circle cx="628.50" cy="368.30" r="6.30" fill="#c8e0c2" stroke="#b3bcb0" stroke-width="0.9"/>
<circle cx="628.50" cy="368.30" r="3.70" fill="#549b70" stroke="none" stroke-width="1"/>
<g transform="translate(652.00 365.70) rotate(-55.0)"><rect x="5.10" y="-0.7" width="2.2" height="1.4" fill="#4a2a8c"/><rect x="6.90" y="-1.80" width="6.60" height="3.60" fill="#4a2a8c"/></g>
<circle cx="652.00" cy="365.70" r="6.30" fill="#c8e0c2" stroke="#b3bcb0" stroke-width="0.9"/>
<circle cx="652.00" cy="365.70" r="3.70" fill="#549b70" stroke="none" stroke-width="1"/>
<circle cx="617.30" cy="368.70" r="5.20" fill="none" stroke="#df3446" stroke-width="0.9" stroke-dasharray="2.1 1.7"/>
<path transform="translate(620.5 364.3) rotate(0)" d="M2.8,0 L-1.9,-2.0 L-1.1,0 L-1.9,2.0 Z" fill="#df3446"/>
<text x="619.90" y="382.60" font-size="7.6" fill="#333" text-anchor="start" textLength="10.2" lengthAdjust="spacingAndGlyphs">T<tspan font-size="5.32" dy="2.13">EX</tspan><tspan dy="-2.13"></tspan></text>
<rect x="636.40" y="375.60" width="30.40" height="7.80" fill="#f7d5c6" stroke="none" stroke-width="1"/>
<text x="651.10" y="380.90" font-size="6.6" fill="#d8404f" text-anchor="middle" textLength="27.4" lengthAdjust="spacingAndGlyphs">Expansion</text>
<g transform="translate(662.40 390.80) rotate(-35.0)"><rect x="5.10" y="-0.7" width="2.2" height="1.4" fill="#8a8a90"/><rect x="6.90" y="-1.80" width="6.60" height="3.60" fill="#9a9aa0"/><rect x="7.60" y="-1.30" width="0.8" height="2.60" fill="#cfcfd4"/><rect x="9.40" y="-1.30" width="0.8" height="2.60" fill="#cfcfd4"/><rect x="11.20" y="-1.30" width="0.8" height="2.60" fill="#cfcfd4"/></g>
<circle cx="662.40" cy="390.80" r="6.30" fill="#ededf1" stroke="#b7b7bf" stroke-width="0.8"/>
<circle cx="662.40" cy="390.80" r="3.70" fill="#9d9da3" stroke="none" stroke-width="1"/>
<g transform="translate(581.50 387.50) rotate(-40.0)"><rect x="5.10" y="-0.7" width="2.2" height="1.4" fill="#7a6646"/><rect x="6.90" y="-1.80" width="6.60" height="3.60" fill="#8c7650"/><rect x="7.60" y="-1.30" width="0.8" height="2.60" fill="#d8c48a"/><rect x="9.40" y="-1.30" width="0.8" height="2.60" fill="#d8c48a"/><rect x="11.20" y="-1.30" width="0.8" height="2.60" fill="#d8c48a"/></g>
<circle cx="581.50" cy="387.50" r="6.50" fill="#2f9c5c" stroke="none" stroke-width="1"/>
<circle cx="581.50" cy="387.50" r="5.00" fill="none" stroke="#eef7ef" stroke-width="0.9"/>
<circle cx="581.50" cy="387.50" r="4.20" fill="#0a6a38" stroke="none" stroke-width="1"/>
<g transform="translate(615.10 396.40) rotate(-145.0)"><rect x="5.10" y="-0.7" width="2.2" height="1.4" fill="#7a6646"/><rect x="6.90" y="-1.80" width="6.60" height="3.60" fill="#8c7650"/><rect x="7.60" y="-1.30" width="0.8" height="2.60" fill="#d8c48a"/><rect x="9.40" y="-1.30" width="0.8" height="2.60" fill="#d8c48a"/><rect x="11.20" y="-1.30" width="0.8" height="2.60" fill="#d8c48a"/></g>
<circle cx="615.10" cy="396.40" r="6.30" fill="#c8e0c2" stroke="#b3bcb0" stroke-width="0.9"/>
<circle cx="615.10" cy="396.40" r="3.70" fill="#549b70" stroke="none" stroke-width="1"/>
<circle cx="626.00" cy="395.00" r="5.60" fill="none" stroke="#df3446" stroke-width="0.9" stroke-dasharray="2.1 1.7"/>
<path transform="translate(623.3 401.2) rotate(180)" d="M2.8,0 L-1.9,-2.0 L-1.1,0 L-1.9,2.0 Z" fill="#df3446"/>
<text x="568.10" y="402.40" font-size="7.6" fill="#333" text-anchor="start" textLength="36.1" lengthAdjust="spacingAndGlyphs">ANXA<tspan font-size="4.71" dy="-2.89">+</tspan><tspan dy="2.89"> T</tspan><tspan font-size="5.32" dy="2.13">EM</tspan><tspan dy="-2.13"></tspan></text>
<g transform="translate(592.10 413.70) rotate(-140.0)"><rect x="5.10" y="-0.7" width="2.2" height="1.4" fill="#7a6646"/><rect x="6.90" y="-1.80" width="6.60" height="3.60" fill="#8c7650"/><rect x="7.60" y="-1.30" width="0.8" height="2.60" fill="#d8c48a"/><rect x="9.40" y="-1.30" width="0.8" height="2.60" fill="#d8c48a"/><rect x="11.20" y="-1.30" width="0.8" height="2.60" fill="#d8c48a"/></g>
<circle cx="592.10" cy="413.70" r="6.50" fill="#2f9c5c" stroke="none" stroke-width="1"/>
<circle cx="592.10" cy="413.70" r="5.00" fill="none" stroke="#eef7ef" stroke-width="0.9"/>
<circle cx="592.10" cy="413.70" r="4.20" fill="#0a6a38" stroke="none" stroke-width="1"/>
<circle cx="601.60" cy="411.00" r="5.40" fill="none" stroke="#df3446" stroke-width="0.9" stroke-dasharray="2.1 1.7"/>
<path transform="translate(599.9 416.6) rotate(170)" d="M2.8,0 L-1.9,-2.0 L-1.1,0 L-1.9,2.0 Z" fill="#df3446"/>
<g transform="translate(625.10 412.80) rotate(-45.0)"><rect x="5.10" y="-0.7" width="2.2" height="1.4" fill="#7a6646"/><rect x="6.90" y="-1.80" width="6.60" height="3.60" fill="#8c7650"/><rect x="7.60" y="-1.30" width="0.8" height="2.60" fill="#d8c48a"/><rect x="9.40" y="-1.30" width="0.8" height="2.60" fill="#d8c48a"/><rect x="11.20" y="-1.30" width="0.8" height="2.60" fill="#d8c48a"/></g>
<circle cx="625.10" cy="412.80" r="6.40" fill="#2c9d5a" stroke="none" stroke-width="1"/>
<circle cx="625.10" cy="412.80" r="5.00" fill="none" stroke="#93d3a2" stroke-width="0.9"/>
<circle cx="625.10" cy="412.80" r="4.40" fill="#07994b" stroke="none" stroke-width="1"/>
<g transform="translate(646.30 400.30) rotate(42.0)"><rect x="5.10" y="-0.7" width="2.2" height="1.4" fill="#7a6646"/><rect x="6.90" y="-1.80" width="6.60" height="3.60" fill="#8c7650"/><rect x="7.60" y="-1.30" width="0.8" height="2.60" fill="#d8c48a"/><rect x="9.40" y="-1.30" width="0.8" height="2.60" fill="#d8c48a"/><rect x="11.20" y="-1.30" width="0.8" height="2.60" fill="#d8c48a"/></g>
<circle cx="646.30" cy="400.30" r="6.40" fill="#2c9d5a" stroke="none" stroke-width="1"/>
<circle cx="646.30" cy="400.30" r="5.00" fill="none" stroke="#93d3a2" stroke-width="0.9"/>
<circle cx="646.30" cy="400.30" r="4.40" fill="#07994b" stroke="none" stroke-width="1"/>
<text x="634.60" y="418.90" font-size="7.6" fill="#333" text-anchor="start" textLength="36.5" lengthAdjust="spacingAndGlyphs">GZMK<tspan font-size="4.71" dy="-2.89">+</tspan><tspan dy="2.89"> T</tspan><tspan font-size="5.32" dy="2.13">EM</tspan><tspan dy="-2.13"></tspan></text>
<text x="623.40" y="430.30" font-size="7.6" fill="#a6333f" text-anchor="middle">Met.Ome</text>
<text x="533.60" y="464.80" font-size="9.0" fill="#333" text-anchor="start">CD4<tspan font-size="5.58" dy="-3.42">+</tspan><tspan dy="3.42"> T cells</tspan></text>
<path d="M447.9,479.0 Q447.9,469.0 457.9,469.0 L673.5,469.0 Q683.5,469.0 683.5,479.0 L683.5,547.0 L682.5,551.5 L679.9,553.6 L667.6,558.5 L652.0,560.6 L637.0,561.2 L616.5,560.5 L598.0,557.0 L583.0,553.6 L571.0,549.6 L562.0,545.6 L552.0,542.8 L542.2,541.2 L527.0,540.8 L511.5,541.2 L495.0,542.8 L480.9,545.3 L470.0,549.0 L462.0,552.8 L456.3,554.5 L451.0,553.4 L448.4,550.0 L447.9,546.0 Z" fill="#faf6e4" stroke="#f0ce80" stroke-width="2.1" stroke-linejoin="round"/>
<path d="M448.6,640.3 L448.6,573.0 L449.3,568.0 L452.5,564.0 L460.4,560.7 L470.0,556.4 L480.9,552.5 L495.0,549.4 L511.5,547.4 L532.0,547.4 L543.0,548.8 L550.4,550.4 L555.0,552.6 L557.6,557.0 L557.6,640.3 Q557.6,650.3 547.6,650.3 L458.6,650.3 Q448.6,650.3 448.6,640.3 Z" fill="#fff" stroke="#ab7d81" stroke-width="2" stroke-linejoin="round"/>
<path d="M566.4,640.3 L566.4,559.0 L566.6,556.5 L569.0,555.6 L576.0,557.6 L585.9,560.5 L600.0,563.4 L616.5,565.7 L637.0,566.7 L659.4,565.7 L675.8,561.8 L681.5,561.0 L684.0,563.5 L684.0,640.3 Q684.0,650.3 674.0,650.3 L576.4,650.3 Q566.4,650.3 566.4,640.3 Z" fill="#fff" stroke="#ab7d81" stroke-width="2" stroke-linejoin="round"/>
<polygon points="463.95,573.70 463.62,574.49 462.99,575.14 462.67,575.80 462.71,576.65 462.61,577.54 462.00,578.10 461.09,578.24 460.33,578.42 459.79,578.99 459.21,579.71 458.42,579.96 457.60,579.60 456.88,579.14 456.16,579.09 455.28,579.31 454.43,579.20 453.90,578.52 453.65,577.65 453.25,577.04 452.49,576.65 451.77,576.12 451.59,575.31 451.92,574.45 452.15,573.70 451.92,572.95 451.59,572.09 451.77,571.28 452.49,570.75 453.25,570.36 453.65,569.75 453.90,568.88 454.43,568.20 455.28,568.09 456.16,568.31 456.88,568.26 457.60,567.80 458.42,567.44 459.21,567.69 459.79,568.41 460.33,568.98 461.09,569.16 462.00,569.30 462.61,569.86 462.71,570.75 462.67,571.60 462.99,572.26 463.62,572.91" fill="#f1e6e7"/>
<circle cx="457.60" cy="573.70" r="2.80" fill="#e6d8da" stroke="none" stroke-width="1"/>
<polygon points="463.95,587.30 463.62,588.09 462.99,588.74 462.67,589.40 462.71,590.25 462.61,591.14 462.00,591.70 461.09,591.84 460.33,592.02 459.79,592.59 459.21,593.31 458.42,593.56 457.60,593.20 456.88,592.74 456.16,592.69 455.28,592.91 454.43,592.80 453.90,592.12 453.65,591.25 453.25,590.64 452.49,590.25 451.77,589.72 451.59,588.91 451.92,588.05 452.15,587.30 451.92,586.55 451.59,585.69 451.77,584.88 452.49,584.35 453.25,583.96 453.65,583.35 453.90,582.48 454.43,581.80 455.28,581.69 456.16,581.91 456.88,581.86 457.60,581.40 458.42,581.04 459.21,581.29 459.79,582.01 460.33,582.58 461.09,582.76 462.00,582.90 462.61,583.46 462.71,584.35 462.67,585.20 462.99,585.86 463.62,586.51" fill="#f1e6e7"/>
<circle cx="457.60" cy="587.30" r="2.80" fill="#e6d8da" stroke="none" stroke-width="1"/>
<polygon points="463.95,600.70 463.62,601.49 462.99,602.14 462.67,602.80 462.71,603.65 462.61,604.54 462.00,605.10 461.09,605.24 460.33,605.42 459.79,605.99 459.21,606.71 458.42,606.96 457.60,606.60 456.88,606.14 456.16,606.09 455.28,606.31 454.43,606.20 453.90,605.52 453.65,604.65 453.25,604.04 452.49,603.65 451.77,603.12 451.59,602.31 451.92,601.45 452.15,600.70 451.92,599.95 451.59,599.09 451.77,598.28 452.49,597.75 453.25,597.36 453.65,596.75 453.90,595.88 454.43,595.20 455.28,595.09 456.16,595.31 456.88,595.26 457.60,594.80 458.42,594.44 459.21,594.69 459.79,595.41 460.33,595.98 461.09,596.16 462.00,596.30 462.61,596.86 462.71,597.75 462.67,598.60 462.99,599.26 463.62,599.91" fill="#f1e6e7"/>
<circle cx="457.60" cy="600.70" r="2.80" fill="#e6d8da" stroke="none" stroke-width="1"/>
<polygon points="463.95,613.80 463.62,614.59 462.99,615.24 462.67,615.90 462.71,616.75 462.61,617.64 462.00,618.20 461.09,618.34 460.33,618.52 459.79,619.09 459.21,619.81 458.42,620.06 457.60,619.70 456.88,619.24 456.16,619.19 455.28,619.41 454.43,619.30 453.90,618.62 453.65,617.75 453.25,617.14 452.49,616.75 451.77,616.22 451.59,615.41 451.92,614.55 452.15,613.80 451.92,613.05 451.59,612.19 451.77,611.38 452.49,610.85 453.25,610.46 453.65,609.85 453.90,608.98 454.43,608.30 455.28,608.19 456.16,608.41 456.88,608.36 457.60,607.90 458.42,607.54 459.21,607.79 459.79,608.51 460.33,609.08 461.09,609.26 462.00,609.40 462.61,609.96 462.71,610.85 462.67,611.70 462.99,612.36 463.62,613.01" fill="#f1e6e7"/>
<circle cx="457.60" cy="613.80" r="2.80" fill="#e6d8da" stroke="none" stroke-width="1"/>
<polygon points="463.95,626.90 463.62,627.69 462.99,628.34 462.67,629.00 462.71,629.85 462.61,630.74 462.00,631.30 461.09,631.44 460.33,631.62 459.79,632.19 459.21,632.91 458.42,633.16 457.60,632.80 456.88,632.34 456.16,632.29 455.28,632.51 454.43,632.40 453.90,631.72 453.65,630.85 453.25,630.24 452.49,629.85 451.77,629.32 451.59,628.51 451.92,627.65 452.15,626.90 451.92,626.15 451.59,625.29 451.77,624.48 452.49,623.95 453.25,623.56 453.65,622.95 453.90,622.08 454.43,621.40 455.28,621.29 456.16,621.51 456.88,621.46 457.60,621.00 458.42,620.64 459.21,620.89 459.79,621.61 460.33,622.18 461.09,622.36 462.00,622.50 462.61,623.06 462.71,623.95 462.67,624.80 462.99,625.46 463.62,626.11" fill="#f1e6e7"/>
<circle cx="457.60" cy="626.90" r="2.80" fill="#e6d8da" stroke="none" stroke-width="1"/>
<polygon points="463.95,639.10 463.62,639.89 462.99,640.54 462.67,641.20 462.71,642.05 462.61,642.94 462.00,643.50 461.09,643.64 460.33,643.82 459.79,644.39 459.21,645.11 458.42,645.36 457.60,645.00 456.88,644.54 456.16,644.49 455.28,644.71 454.43,644.60 453.90,643.92 453.65,643.05 453.25,642.44 452.49,642.05 451.77,641.52 451.59,640.71 451.92,639.85 452.15,639.10 451.92,638.35 451.59,637.49 451.77,636.68 452.49,636.15 453.25,635.76 453.65,635.15 453.90,634.28 454.43,633.60 455.28,633.49 456.16,633.71 456.88,633.66 457.60,633.20 458.42,632.84 459.21,633.09 459.79,633.81 460.33,634.38 461.09,634.56 462.00,634.70 462.61,635.26 462.71,636.15 462.67,637.00 462.99,637.66 463.62,638.31" fill="#f1e6e7"/>
<circle cx="457.60" cy="639.10" r="2.80" fill="#e6d8da" stroke="none" stroke-width="1"/>
<polygon points="475.65,644.00 475.32,644.79 474.69,645.44 474.37,646.10 474.41,646.95 474.31,647.84 473.70,648.40 472.79,648.54 472.03,648.72 471.49,649.29 470.91,650.01 470.12,650.26 469.30,649.90 468.58,649.44 467.86,649.39 466.98,649.61 466.12,649.50 465.60,648.82 465.35,647.95 464.95,647.34 464.19,646.95 463.47,646.42 463.29,645.61 463.62,644.75 463.85,644.00 463.62,643.25 463.29,642.39 463.47,641.58 464.19,641.05 464.95,640.66 465.35,640.05 465.60,639.18 466.12,638.50 466.98,638.39 467.86,638.61 468.58,638.56 469.30,638.10 470.12,637.74 470.91,637.99 471.49,638.71 472.03,639.28 472.79,639.46 473.70,639.60 474.31,640.16 474.41,641.05 474.37,641.90 474.69,642.56 475.32,643.21" fill="#f1e6e7"/>
<circle cx="469.30" cy="644.00" r="2.80" fill="#e6d8da" stroke="none" stroke-width="1"/>
<polygon points="488.65,644.00 488.32,644.79 487.69,645.44 487.37,646.10 487.41,646.95 487.31,647.84 486.70,648.40 485.79,648.54 485.03,648.72 484.49,649.29 483.91,650.01 483.12,650.26 482.30,649.90 481.58,649.44 480.86,649.39 479.98,649.61 479.12,649.50 478.60,648.82 478.35,647.95 477.95,647.34 477.19,646.95 476.47,646.42 476.29,645.61 476.62,644.75 476.85,644.00 476.62,643.25 476.29,642.39 476.47,641.58 477.19,641.05 477.95,640.66 478.35,640.05 478.60,639.18 479.12,638.50 479.98,638.39 480.86,638.61 481.58,638.56 482.30,638.10 483.12,637.74 483.91,637.99 484.49,638.71 485.03,639.28 485.79,639.46 486.70,639.60 487.31,640.16 487.41,641.05 487.37,641.90 487.69,642.56 488.32,643.21" fill="#f1e6e7"/>
<circle cx="482.30" cy="644.00" r="2.80" fill="#e6d8da" stroke="none" stroke-width="1"/>
<polygon points="529.55,644.00 529.22,644.79 528.59,645.44 528.27,646.10 528.31,646.95 528.21,647.84 527.60,648.40 526.69,648.54 525.93,648.72 525.39,649.29 524.81,650.01 524.02,650.26 523.20,649.90 522.48,649.44 521.76,649.39 520.88,649.61 520.03,649.50 519.50,648.82 519.25,647.95 518.85,647.34 518.09,646.95 517.37,646.42 517.19,645.61 517.52,644.75 517.75,644.00 517.52,643.25 517.19,642.39 517.37,641.58 518.09,641.05 518.85,640.66 519.25,640.05 519.50,639.18 520.03,638.50 520.88,638.39 521.76,638.61 522.48,638.56 523.20,638.10 524.02,637.74 524.81,637.99 525.39,638.71 525.93,639.28 526.69,639.46 527.60,639.60 528.21,640.16 528.31,641.05 528.27,641.90 528.59,642.56 529.22,643.21" fill="#f1e6e7"/>
<circle cx="523.20" cy="644.00" r="2.80" fill="#e6d8da" stroke="none" stroke-width="1"/>
<polygon points="542.65,644.00 542.32,644.79 541.69,645.44 541.37,646.10 541.41,646.95 541.31,647.84 540.70,648.40 539.79,648.54 539.02,648.72 538.49,649.29 537.91,650.01 537.12,650.26 536.30,649.90 535.58,649.44 534.86,649.39 533.98,649.61 533.12,649.50 532.60,648.82 532.35,647.95 531.95,647.34 531.19,646.95 530.47,646.42 530.29,645.61 530.62,644.75 530.85,644.00 530.62,643.25 530.29,642.39 530.47,641.58 531.19,641.05 531.95,640.66 532.35,640.05 532.60,639.18 533.12,638.50 533.98,638.39 534.86,638.61 535.58,638.56 536.30,638.10 537.12,637.74 537.91,637.99 538.49,638.71 539.02,639.28 539.79,639.46 540.70,639.60 541.31,640.16 541.41,641.05 541.37,641.90 541.69,642.56 542.32,643.21" fill="#f1e6e7"/>
<circle cx="536.30" cy="644.00" r="2.80" fill="#e6d8da" stroke="none" stroke-width="1"/>
<polygon points="554.95,634.20 554.62,634.99 553.99,635.64 553.67,636.30 553.71,637.15 553.61,638.04 553.00,638.60 552.09,638.74 551.33,638.92 550.79,639.49 550.21,640.21 549.42,640.46 548.60,640.10 547.88,639.64 547.16,639.59 546.28,639.81 545.43,639.70 544.90,639.02 544.65,638.15 544.25,637.54 543.49,637.15 542.77,636.62 542.59,635.81 542.92,634.95 543.15,634.20 542.92,633.45 542.59,632.59 542.77,631.78 543.49,631.25 544.25,630.86 544.65,630.25 544.90,629.38 545.43,628.70 546.28,628.59 547.16,628.81 547.88,628.76 548.60,628.30 549.42,627.94 550.21,628.19 550.79,628.91 551.33,629.48 552.09,629.66 553.00,629.80 553.61,630.36 553.71,631.25 553.67,632.10 553.99,632.76 554.62,633.41" fill="#f1e6e7"/>
<circle cx="548.60" cy="634.20" r="2.80" fill="#e6d8da" stroke="none" stroke-width="1"/>
<polygon points="681.65,570.60 681.32,571.39 680.69,572.04 680.37,572.70 680.41,573.55 680.31,574.44 679.70,575.00 678.79,575.14 678.02,575.32 677.49,575.89 676.91,576.61 676.12,576.86 675.30,576.50 674.58,576.04 673.86,575.99 672.98,576.21 672.12,576.10 671.60,575.42 671.35,574.55 670.95,573.94 670.19,573.55 669.47,573.02 669.29,572.21 669.62,571.35 669.85,570.60 669.62,569.85 669.29,568.99 669.47,568.18 670.19,567.65 670.95,567.26 671.35,566.65 671.60,565.78 672.12,565.10 672.98,564.99 673.86,565.21 674.58,565.16 675.30,564.70 676.12,564.34 676.91,564.59 677.49,565.31 678.02,565.88 678.79,566.06 679.70,566.20 680.31,566.76 680.41,567.65 680.37,568.50 680.69,569.16 681.32,569.81" fill="#f1e6e7"/>
<circle cx="675.30" cy="570.60" r="2.80" fill="#e6d8da" stroke="none" stroke-width="1"/>
<polygon points="681.65,585.40 681.32,586.19 680.69,586.84 680.37,587.50 680.41,588.35 680.31,589.24 679.70,589.80 678.79,589.94 678.02,590.12 677.49,590.69 676.91,591.41 676.12,591.66 675.30,591.30 674.58,590.84 673.86,590.79 672.98,591.01 672.12,590.90 671.60,590.22 671.35,589.35 670.95,588.74 670.19,588.35 669.47,587.82 669.29,587.01 669.62,586.15 669.85,585.40 669.62,584.65 669.29,583.79 669.47,582.98 670.19,582.45 670.95,582.06 671.35,581.45 671.60,580.58 672.12,579.90 672.98,579.79 673.86,580.01 674.58,579.96 675.30,579.50 676.12,579.14 676.91,579.39 677.49,580.11 678.02,580.68 678.79,580.86 679.70,581.00 680.31,581.56 680.41,582.45 680.37,583.30 680.69,583.96 681.32,584.61" fill="#f1e6e7"/>
<circle cx="675.30" cy="585.40" r="2.80" fill="#e6d8da" stroke="none" stroke-width="1"/>
<polygon points="681.65,599.00 681.32,599.79 680.69,600.44 680.37,601.10 680.41,601.95 680.31,602.84 679.70,603.40 678.79,603.54 678.02,603.72 677.49,604.29 676.91,605.01 676.12,605.26 675.30,604.90 674.58,604.44 673.86,604.39 672.98,604.61 672.12,604.50 671.60,603.82 671.35,602.95 670.95,602.34 670.19,601.95 669.47,601.42 669.29,600.61 669.62,599.75 669.85,599.00 669.62,598.25 669.29,597.39 669.47,596.58 670.19,596.05 670.95,595.66 671.35,595.05 671.60,594.18 672.12,593.50 672.98,593.39 673.86,593.61 674.58,593.56 675.30,593.10 676.12,592.74 676.91,592.99 677.49,593.71 678.02,594.28 678.79,594.46 679.70,594.60 680.31,595.16 680.41,596.05 680.37,596.90 680.69,597.56 681.32,598.21" fill="#f1e6e7"/>
<circle cx="675.30" cy="599.00" r="2.80" fill="#e6d8da" stroke="none" stroke-width="1"/>
<polygon points="681.65,612.40 681.32,613.19 680.69,613.84 680.37,614.50 680.41,615.35 680.31,616.24 679.70,616.80 678.79,616.94 678.02,617.12 677.49,617.69 676.91,618.41 676.12,618.66 675.30,618.30 674.58,617.84 673.86,617.79 672.98,618.01 672.12,617.90 671.60,617.22 671.35,616.35 670.95,615.74 670.19,615.35 669.47,614.82 669.29,614.01 669.62,613.15 669.85,612.40 669.62,611.65 669.29,610.79 669.47,609.98 670.19,609.45 670.95,609.06 671.35,608.45 671.60,607.58 672.12,606.90 672.98,606.79 673.86,607.01 674.58,606.96 675.30,606.50 676.12,606.14 676.91,606.39 677.49,607.11 678.02,607.68 678.79,607.86 679.70,608.00 680.31,608.56 680.41,609.45 680.37,610.30 680.69,610.96 681.32,611.61" fill="#f1e6e7"/>
<circle cx="675.30" cy="612.40" r="2.80" fill="#e6d8da" stroke="none" stroke-width="1"/>
<polygon points="681.65,627.10 681.32,627.89 680.69,628.54 680.37,629.20 680.41,630.05 680.31,630.94 679.70,631.50 678.79,631.64 678.02,631.82 677.49,632.39 676.91,633.11 676.12,633.36 675.30,633.00 674.58,632.54 673.86,632.49 672.98,632.71 672.12,632.60 671.60,631.92 671.35,631.05 670.95,630.44 670.19,630.05 669.47,629.52 669.29,628.71 669.62,627.85 669.85,627.10 669.62,626.35 669.29,625.49 669.47,624.68 670.19,624.15 670.95,623.76 671.35,623.15 671.60,622.28 672.12,621.60 672.98,621.49 673.86,621.71 674.58,621.66 675.30,621.20 676.12,620.84 676.91,621.09 677.49,621.81 678.02,622.38 678.79,622.56 679.70,622.70 680.31,623.26 680.41,624.15 680.37,625.00 680.69,625.66 681.32,626.31" fill="#f1e6e7"/>
<circle cx="675.30" cy="627.10" r="2.80" fill="#e6d8da" stroke="none" stroke-width="1"/>
<polygon points="681.45,640.50 681.12,641.29 680.49,641.94 680.17,642.60 680.21,643.45 680.11,644.34 679.50,644.90 678.59,645.04 677.83,645.22 677.29,645.79 676.71,646.51 675.92,646.76 675.10,646.40 674.38,645.94 673.66,645.89 672.78,646.11 671.93,646.00 671.40,645.32 671.15,644.45 670.75,643.84 669.99,643.45 669.27,642.92 669.09,642.11 669.42,641.25 669.65,640.50 669.42,639.75 669.09,638.89 669.27,638.08 669.99,637.55 670.75,637.16 671.15,636.55 671.40,635.68 671.93,635.00 672.78,634.89 673.66,635.11 674.38,635.06 675.10,634.60 675.92,634.24 676.71,634.49 677.29,635.21 677.83,635.78 678.59,635.96 679.50,636.10 680.11,636.66 680.21,637.55 680.17,638.40 680.49,639.06 681.12,639.71" fill="#f1e6e7"/>
<circle cx="675.10" cy="640.50" r="2.80" fill="#e6d8da" stroke="none" stroke-width="1"/>
<polygon points="580.15,633.60 579.82,634.39 579.19,635.04 578.87,635.70 578.91,636.55 578.81,637.44 578.20,638.00 577.29,638.14 576.52,638.32 575.99,638.89 575.41,639.61 574.62,639.86 573.80,639.50 573.08,639.04 572.36,638.99 571.48,639.21 570.62,639.10 570.10,638.42 569.85,637.55 569.45,636.94 568.69,636.55 567.97,636.02 567.79,635.21 568.12,634.35 568.35,633.60 568.12,632.85 567.79,631.99 567.97,631.18 568.69,630.65 569.45,630.26 569.85,629.65 570.10,628.78 570.62,628.10 571.48,627.99 572.36,628.21 573.08,628.16 573.80,627.70 574.62,627.34 575.41,627.59 575.99,628.31 576.52,628.88 577.29,629.06 578.20,629.20 578.81,629.76 578.91,630.65 578.87,631.50 579.19,632.16 579.82,632.81" fill="#f1e6e7"/>
<circle cx="573.80" cy="633.60" r="2.80" fill="#e6d8da" stroke="none" stroke-width="1"/>
<polygon points="593.15,641.90 592.82,642.69 592.19,643.34 591.87,644.00 591.91,644.85 591.81,645.74 591.20,646.30 590.29,646.44 589.52,646.62 588.99,647.19 588.41,647.91 587.62,648.16 586.80,647.80 586.08,647.34 585.36,647.29 584.48,647.51 583.62,647.40 583.10,646.72 582.85,645.85 582.45,645.24 581.69,644.85 580.97,644.32 580.79,643.51 581.12,642.65 581.35,641.90 581.12,641.15 580.79,640.29 580.97,639.48 581.69,638.95 582.45,638.56 582.85,637.95 583.10,637.08 583.62,636.40 584.48,636.29 585.36,636.51 586.08,636.46 586.80,636.00 587.62,635.64 588.41,635.89 588.99,636.61 589.52,637.18 590.29,637.36 591.20,637.50 591.81,638.06 591.91,638.95 591.87,639.80 592.19,640.46 592.82,641.11" fill="#f1e6e7"/>
<circle cx="586.80" cy="641.90" r="2.80" fill="#e6d8da" stroke="none" stroke-width="1"/>
<polygon points="606.25,641.90 605.92,642.69 605.29,643.34 604.97,644.00 605.01,644.85 604.91,645.74 604.30,646.30 603.39,646.44 602.62,646.62 602.09,647.19 601.51,647.91 600.72,648.16 599.90,647.80 599.18,647.34 598.46,647.29 597.58,647.51 596.73,647.40 596.20,646.72 595.95,645.85 595.55,645.24 594.79,644.85 594.07,644.32 593.89,643.51 594.22,642.65 594.45,641.90 594.22,641.15 593.89,640.29 594.07,639.48 594.79,638.95 595.55,638.56 595.95,637.95 596.20,637.08 596.73,636.40 597.58,636.29 598.46,636.51 599.18,636.46 599.90,636.00 600.72,635.64 601.51,635.89 602.09,636.61 602.62,637.18 603.39,637.36 604.30,637.50 604.91,638.06 605.01,638.95 604.97,639.80 605.29,640.46 605.92,641.11" fill="#f1e6e7"/>
<circle cx="599.90" cy="641.90" r="2.80" fill="#e6d8da" stroke="none" stroke-width="1"/>
<polygon points="656.65,641.90 656.32,642.69 655.69,643.34 655.37,644.00 655.41,644.85 655.31,645.74 654.70,646.30 653.79,646.44 653.02,646.62 652.49,647.19 651.91,647.91 651.12,648.16 650.30,647.80 649.58,647.34 648.86,647.29 647.98,647.51 647.12,647.40 646.60,646.72 646.35,645.85 645.95,645.24 645.19,644.85 644.47,644.32 644.29,643.51 644.62,642.65 644.85,641.90 644.62,641.15 644.29,640.29 644.47,639.48 645.19,638.95 645.95,638.56 646.35,637.95 646.60,637.08 647.12,636.40 647.98,636.29 648.86,636.51 649.58,636.46 650.30,636.00 651.12,635.64 651.91,635.89 652.49,636.61 653.02,637.18 653.79,637.36 654.70,637.50 655.31,638.06 655.41,638.95 655.37,639.80 655.69,640.46 656.32,641.11" fill="#f1e6e7"/>
<circle cx="650.30" cy="641.90" r="2.80" fill="#e6d8da" stroke="none" stroke-width="1"/>
<polygon points="669.65,641.90 669.32,642.69 668.69,643.34 668.37,644.00 668.41,644.85 668.31,645.74 667.70,646.30 666.79,646.44 666.02,646.62 665.49,647.19 664.91,647.91 664.12,648.16 663.30,647.80 662.58,647.34 661.86,647.29 660.98,647.51 660.12,647.40 659.60,646.72 659.35,645.85 658.95,645.24 658.19,644.85 657.47,644.32 657.29,643.51 657.62,642.65 657.85,641.90 657.62,641.15 657.29,640.29 657.47,639.48 658.19,638.95 658.95,638.56 659.35,637.95 659.60,637.08 660.12,636.40 660.98,636.29 661.86,636.51 662.58,636.46 663.30,636.00 664.12,635.64 664.91,635.89 665.49,636.61 666.02,637.18 666.79,637.36 667.70,637.50 668.31,638.06 668.41,638.95 668.37,639.80 668.69,640.46 669.32,641.11" fill="#f1e6e7"/>
<circle cx="663.30" cy="641.90" r="2.80" fill="#e6d8da" stroke="none" stroke-width="1"/>
<text x="465.70" y="490.70" font-size="7.4" fill="#a9a9ae" text-anchor="start">Other CD4<tspan font-size="4.59" dy="-2.81">+</tspan><tspan dy="2.81"> T</tspan></text>
<text x="623.00" y="493.70" font-size="7.4" fill="#a9a9ae" text-anchor="start">Other CD4<tspan font-size="4.59" dy="-2.81">+</tspan><tspan dy="2.81"> T</tspan></text>
<text x="547.70" y="482.80" font-size="7.4" fill="#a6333f" text-anchor="start">Ascites</text>
<g transform="translate(462.40 479.70) rotate(-35.0)"><rect x="5.10" y="-0.7" width="2.2" height="1.4" fill="#8a8a90"/><rect x="6.90" y="-1.80" width="6.60" height="3.60" fill="#9a9aa0"/><rect x="7.60" y="-1.30" width="0.8" height="2.60" fill="#cfcfd4"/><rect x="9.40" y="-1.30" width="0.8" height="2.60" fill="#cfcfd4"/><rect x="11.20" y="-1.30" width="0.8" height="2.60" fill="#cfcfd4"/></g>
<circle cx="462.40" cy="479.70" r="6.30" fill="#ededf1" stroke="#b7b7bf" stroke-width="0.8"/>
<circle cx="462.40" cy="479.70" r="3.70" fill="#9d9da3" stroke="none" stroke-width="1"/>
<g transform="translate(517.20 485.70) rotate(-140.0)"><rect x="5.10" y="-0.7" width="2.2" height="1.4" fill="#8a8a90"/><rect x="6.90" y="-1.80" width="6.60" height="3.60" fill="#9a9aa0"/><rect x="7.60" y="-1.30" width="0.8" height="2.60" fill="#cfcfd4"/><rect x="9.40" y="-1.30" width="0.8" height="2.60" fill="#cfcfd4"/><rect x="11.20" y="-1.30" width="0.8" height="2.60" fill="#cfcfd4"/></g>
<circle cx="517.20" cy="485.70" r="6.30" fill="#ededf1" stroke="#b7b7bf" stroke-width="0.8"/>
<circle cx="517.20" cy="485.70" r="3.70" fill="#9d9da3" stroke="none" stroke-width="1"/>
<g transform="translate(475.80 499.80) rotate(-38.0)"><rect x="5.10" y="-0.7" width="2.2" height="1.4" fill="#8a8a90"/><rect x="6.90" y="-1.80" width="6.60" height="3.60" fill="#9a9aa0"/><rect x="7.60" y="-1.30" width="0.8" height="2.60" fill="#cfcfd4"/><rect x="9.40" y="-1.30" width="0.8" height="2.60" fill="#cfcfd4"/><rect x="11.20" y="-1.30" width="0.8" height="2.60" fill="#cfcfd4"/></g>
<circle cx="475.80" cy="499.80" r="6.30" fill="#ededf1" stroke="#b7b7bf" stroke-width="0.8"/>
<circle cx="475.80" cy="499.80" r="3.70" fill="#9d9da3" stroke="none" stroke-width="1"/>
<g transform="translate(626.30 479.00) rotate(168.0)"><rect x="5.10" y="-0.7" width="2.2" height="1.4" fill="#8a8a90"/><rect x="6.90" y="-1.80" width="6.60" height="3.60" fill="#9a9aa0"/><rect x="7.60" y="-1.30" width="0.8" height="2.60" fill="#cfcfd4"/><rect x="9.40" y="-1.30" width="0.8" height="2.60" fill="#cfcfd4"/><rect x="11.20" y="-1.30" width="0.8" height="2.60" fill="#cfcfd4"/></g>
<circle cx="626.30" cy="479.00" r="6.30" fill="#ededf1" stroke="#b7b7bf" stroke-width="0.8"/>
<circle cx="626.30" cy="479.00" r="3.70" fill="#9d9da3" stroke="none" stroke-width="1"/>
<g transform="translate(663.90 479.00) rotate(-38.0)"><rect x="5.10" y="-0.7" width="2.2" height="1.4" fill="#8a8a90"/><rect x="6.90" y="-1.80" width="6.60" height="3.60" fill="#9a9aa0"/><rect x="7.60" y="-1.30" width="0.8" height="2.60" fill="#cfcfd4"/><rect x="9.40" y="-1.30" width="0.8" height="2.60" fill="#cfcfd4"/><rect x="11.20" y="-1.30" width="0.8" height="2.60" fill="#cfcfd4"/></g>
<circle cx="663.90" cy="479.00" r="6.30" fill="#ededf1" stroke="#b7b7bf" stroke-width="0.8"/>
<circle cx="663.90" cy="479.00" r="3.70" fill="#9d9da3" stroke="none" stroke-width="1"/>
<g transform="translate(511.90 509.80) rotate(-50.0)"><rect x="5.10" y="-0.7" width="2.2" height="1.4" fill="#173f8c"/><rect x="6.90" y="-1.55" width="6.60" height="3.10" fill="#2a6fc0"/></g>
<circle cx="511.90" cy="509.80" r="6.40" fill="#8cb6e4" stroke="#2a5fb8" stroke-width="1.0"/>
<circle cx="511.90" cy="509.80" r="3.50" fill="#0d569e" stroke="none" stroke-width="1"/>
<circle cx="506.50" cy="499.30" r="5.40" fill="none" stroke="#df3446" stroke-width="0.9" stroke-dasharray="2.1 1.7"/>
<path transform="translate(510.6 503.4) rotate(80)" d="M2.8,0 L-1.9,-2.0 L-1.1,0 L-1.9,2.0 Z" fill="#df3446"/>
<g transform="translate(466.40 522.80) rotate(45.0)"><rect x="5.10" y="-0.7" width="2.2" height="1.4" fill="#1f3f90"/><rect x="6.90" y="-1.80" width="6.60" height="3.60" fill="#d9d9dc"/></g>
<circle cx="466.40" cy="522.80" r="6.40" fill="#3553b0" stroke="#2b47a2" stroke-width="0.8"/>
<circle cx="466.40" cy="522.80" r="4.00" fill="#3b5fc0" stroke="none" stroke-width="1"/>
<g transform="translate(549.10 495.80) rotate(-28.0)"><rect x="5.10" y="-0.7" width="2.2" height="1.4" fill="#173f8c"/><rect x="6.90" y="-1.55" width="6.60" height="3.10" fill="#2a6fc0"/></g>
<circle cx="549.10" cy="495.80" r="6.40" fill="#8cb6e4" stroke="#2a5fb8" stroke-width="1.0"/>
<circle cx="549.10" cy="495.80" r="3.50" fill="#0d569e" stroke="none" stroke-width="1"/>
<g transform="translate(547.10 519.20) rotate(-125.0)"><rect x="5.10" y="-0.7" width="2.2" height="1.4" fill="#173f8c"/><rect x="6.90" y="-1.55" width="6.60" height="3.10" fill="#2a6fc0"/></g>
<circle cx="547.10" cy="519.20" r="6.40" fill="#8cb6e4" stroke="#2a5fb8" stroke-width="1.0"/>
<circle cx="547.10" cy="519.20" r="3.50" fill="#0d569e" stroke="none" stroke-width="1"/>
<g transform="translate(577.20 519.80) rotate(65.0)"><rect x="5.10" y="-0.7" width="2.2" height="1.4" fill="#173f8c"/><rect x="6.90" y="-1.55" width="6.60" height="3.10" fill="#2a6fc0"/></g>
<circle cx="577.20" cy="519.80" r="6.40" fill="#8cb6e4" stroke="#2a5fb8" stroke-width="1.0"/>
<circle cx="577.20" cy="519.80" r="3.50" fill="#0d569e" stroke="none" stroke-width="1"/>
<circle cx="583.80" cy="512.50" r="5.60" fill="none" stroke="#df3446" stroke-width="0.9" stroke-dasharray="2.1 1.7"/>
<path transform="translate(581.6 518.3) rotate(160)" d="M2.8,0 L-1.9,-2.0 L-1.1,0 L-1.9,2.0 Z" fill="#df3446"/>
<rect x="567.50" y="498.20" width="30.40" height="8.50" fill="#f7d5c6" stroke="none" stroke-width="1"/>
<text x="582.20" y="504.20" font-size="6.6" fill="#d8404f" text-anchor="middle" textLength="27.4" lengthAdjust="spacingAndGlyphs">Expansion</text>
<text x="591.90" y="526.80" font-size="7.6" fill="#333" text-anchor="start" textLength="11.3" lengthAdjust="spacingAndGlyphs">T<tspan font-size="5.32" dy="2.13">CM</tspan><tspan dy="-2.13"></tspan></text>
<g transform="translate(633.70 505.10) rotate(140.0)"><rect x="5.10" y="-0.7" width="2.2" height="1.4" fill="#1f3f90"/><rect x="6.90" y="-1.80" width="6.60" height="3.60" fill="#d9d9dc"/></g>
<circle cx="633.70" cy="505.10" r="6.40" fill="#3553b0" stroke="#2b47a2" stroke-width="0.8"/>
<circle cx="633.70" cy="505.10" r="4.00" fill="#3b5fc0" stroke="none" stroke-width="1"/>
<g transform="translate(655.10 531.20) rotate(-50.0)"><rect x="5.10" y="-0.7" width="2.2" height="1.4" fill="#1f3f90"/><rect x="6.90" y="-1.80" width="6.60" height="3.60" fill="#d9d9dc"/></g>
<circle cx="655.10" cy="531.20" r="6.40" fill="#3553b0" stroke="#2b47a2" stroke-width="0.8"/>
<circle cx="655.10" cy="531.20" r="4.00" fill="#3b5fc0" stroke="none" stroke-width="1"/>
<text x="647.40" y="520.50" font-size="7.6" fill="#333" text-anchor="start" textLength="8.9" lengthAdjust="spacingAndGlyphs">T<tspan font-size="5.32" dy="2.13">eff</tspan><tspan dy="-2.13"></tspan></text>
<path d="M554.4,526.2 C544,531 530,541 525.6,556.2" fill="none" stroke="#c8202f" stroke-width="1.2"/>
<path transform="translate(525.0 558.9) rotate(100)" d="M2.2,0 L-2.6,-2.4 L-1.4,0 L-2.6,2.4 Z" fill="#c8202f"/>
<path d="M599.9,531.9 C620,540 636,552 638.5,571.8" fill="none" stroke="#c8202f" stroke-width="1.2"/>
<path transform="translate(638.6 574.4) rotate(90)" d="M2.2,0 L-2.6,-2.4 L-1.4,0 L-2.6,2.4 Z" fill="#c8202f"/>
<rect x="503.80" y="530.50" width="30.80" height="8.00" fill="#f7d5c6" stroke="none" stroke-width="1"/>
<text x="518.70" y="536.00" font-size="6.6" fill="#d8404f" text-anchor="middle" textLength="26.5" lengthAdjust="spacingAndGlyphs">Migration</text>
<rect x="587.20" y="545.20" width="27.80" height="8.10" fill="#f7d5c6" stroke="none" stroke-width="1"/>
<text x="600.60" y="550.80" font-size="6.6" fill="#d8404f" text-anchor="middle" textLength="23.9" lengthAdjust="spacingAndGlyphs">Migration</text>
<g transform="translate(508.50 561.80) rotate(-50.0)"><rect x="5.10" y="-0.7" width="2.2" height="1.4" fill="#173f8c"/><rect x="6.90" y="-1.55" width="6.60" height="3.10" fill="#2a6fc0"/></g>
<circle cx="508.50" cy="561.80" r="6.40" fill="#8ab0dc" stroke="#25aae6" stroke-width="1.0"/>
<circle cx="508.50" cy="561.80" r="3.70" fill="#3a87c8" stroke="none" stroke-width="1"/>
<g transform="translate(534.70 565.50) rotate(50.0)"><rect x="5.10" y="-0.7" width="2.2" height="1.4" fill="#173f8c"/><rect x="6.90" y="-1.55" width="6.60" height="3.10" fill="#2a6fc0"/></g>
<circle cx="534.70" cy="565.50" r="6.40" fill="#8ab0dc" stroke="#25aae6" stroke-width="1.0"/>
<circle cx="534.70" cy="565.50" r="3.70" fill="#3a87c8" stroke="none" stroke-width="1"/>
<g transform="translate(484.00 576.20) rotate(-115.0)"><rect x="5.10" y="-0.7" width="2.2" height="1.4" fill="#173f8c"/><rect x="6.90" y="-1.55" width="6.60" height="3.10" fill="#2a6fc0"/></g>
<circle cx="484.00" cy="576.20" r="6.40" fill="#8ab0dc" stroke="#25aae6" stroke-width="1.0"/>
<circle cx="484.00" cy="576.20" r="3.70" fill="#3a87c8" stroke="none" stroke-width="1"/>
<text x="500.30" y="577.00" font-size="7.6" fill="#333" text-anchor="start" textLength="23.7" lengthAdjust="spacingAndGlyphs">T<tspan font-size="5.32" dy="2.13">H</tspan><tspan dy="-2.13">1-like</tspan></text>
<g transform="translate(472.50 600.70) rotate(-130.0)"><rect x="5.10" y="-0.7" width="2.2" height="1.4" fill="#8a8a90"/><rect x="6.90" y="-1.80" width="6.60" height="3.60" fill="#9a9aa0"/><rect x="7.60" y="-1.30" width="0.8" height="2.60" fill="#cfcfd4"/><rect x="9.40" y="-1.30" width="0.8" height="2.60" fill="#cfcfd4"/><rect x="11.20" y="-1.30" width="0.8" height="2.60" fill="#cfcfd4"/></g>
<circle cx="472.50" cy="600.70" r="6.30" fill="#ededf1" stroke="#b7b7bf" stroke-width="0.8"/>
<circle cx="472.50" cy="600.70" r="3.70" fill="#9d9da3" stroke="none" stroke-width="1"/>
<g transform="translate(502.80 599.90) rotate(-30.0)"><rect x="5.10" y="-0.7" width="2.2" height="1.4" fill="#1f3f90"/><rect x="6.90" y="-1.80" width="6.60" height="3.60" fill="#d9d9dc"/></g>
<circle cx="502.80" cy="599.90" r="6.50" fill="#6a72c4" stroke="#3342a4" stroke-width="1.0"/>
<circle cx="502.80" cy="599.90" r="3.60" fill="#4b3a9a" stroke="none" stroke-width="1"/>
<g transform="translate(531.40 593.80) rotate(50.0)"><rect x="5.10" y="-0.7" width="2.2" height="1.4" fill="#1f3f90"/><rect x="6.90" y="-1.80" width="6.60" height="3.60" fill="#d9d9dc"/></g>
<circle cx="531.40" cy="593.80" r="6.40" fill="#8cb6e4" stroke="#2a5fb8" stroke-width="1.0"/>
<circle cx="531.40" cy="593.80" r="3.50" fill="#0d569e" stroke="none" stroke-width="1"/>
<g transform="translate(487.20 615.40) rotate(135.0)"><rect x="5.10" y="-0.7" width="2.2" height="1.4" fill="#1f3f90"/><rect x="6.90" y="-1.80" width="6.60" height="3.60" fill="#d9d9dc"/></g>
<circle cx="487.20" cy="615.40" r="6.50" fill="#6a72c4" stroke="#3342a4" stroke-width="1.0"/>
<circle cx="487.20" cy="615.40" r="3.60" fill="#4b3a9a" stroke="none" stroke-width="1"/>
<g transform="translate(519.90 621.20) rotate(35.0)"><rect x="5.10" y="-0.7" width="2.2" height="1.4" fill="#1f3f90"/><rect x="6.90" y="-1.80" width="6.60" height="3.60" fill="#d9d9dc"/></g>
<circle cx="519.90" cy="621.20" r="6.50" fill="#6a72c4" stroke="#3342a4" stroke-width="1.0"/>
<circle cx="519.90" cy="621.20" r="3.60" fill="#4b3a9a" stroke="none" stroke-width="1"/>
<text x="531.40" y="614.60" font-size="7.6" fill="#333" text-anchor="start" textLength="10.8" lengthAdjust="spacingAndGlyphs">T<tspan font-size="5.32" dy="2.13">CM</tspan><tspan dy="-2.13"></tspan></text>
<text x="481.50" y="635.10" font-size="7.6" fill="#333" text-anchor="start" textLength="11.5" lengthAdjust="spacingAndGlyphs">T<tspan font-size="5.32" dy="2.13">reg</tspan><tspan dy="-2.13"></tspan></text>
<text x="502.40" y="646.50" font-size="7.6" fill="#a6333f" text-anchor="middle" textLength="20.4" lengthAdjust="spacingAndGlyphs">Pri.OT</text>
<g transform="translate(586.50 577.20) rotate(-120.0)"><rect x="5.10" y="-0.7" width="2.2" height="1.4" fill="#173f8c"/><rect x="6.90" y="-1.55" width="6.60" height="3.10" fill="#2a6fc0"/></g>
<circle cx="586.50" cy="577.20" r="6.40" fill="#8ab0dc" stroke="#25aae6" stroke-width="1.0"/>
<circle cx="586.50" cy="577.20" r="3.70" fill="#3a87c8" stroke="none" stroke-width="1"/>
<g transform="translate(602.50 593.60) rotate(-92.0)"><rect x="5.10" y="-0.7" width="2.2" height="1.4" fill="#173f8c"/><rect x="6.90" y="-1.55" width="6.60" height="3.10" fill="#2a6fc0"/></g>
<circle cx="602.50" cy="593.60" r="6.40" fill="#8ab0dc" stroke="#25aae6" stroke-width="1.0"/>
<circle cx="602.50" cy="593.60" r="3.70" fill="#3a87c8" stroke="none" stroke-width="1"/>
<g transform="translate(620.70 586.30) rotate(-50.0)"><rect x="5.10" y="-0.7" width="2.2" height="1.4" fill="#173f8c"/><rect x="6.90" y="-1.55" width="6.60" height="3.10" fill="#2a6fc0"/></g>
<circle cx="620.70" cy="586.30" r="6.40" fill="#8ab0dc" stroke="#25aae6" stroke-width="1.0"/>
<circle cx="620.70" cy="586.30" r="3.70" fill="#3a87c8" stroke="none" stroke-width="1"/>
<g transform="translate(659.30 572.40) rotate(185.0)"><rect x="5.10" y="-0.7" width="2.2" height="1.4" fill="#173f8c"/><rect x="6.90" y="-1.55" width="6.60" height="3.10" fill="#2a6fc0"/></g>
<circle cx="659.30" cy="572.40" r="6.40" fill="#8ab0dc" stroke="#25aae6" stroke-width="1.0"/>
<circle cx="659.30" cy="572.40" r="3.70" fill="#3a87c8" stroke="none" stroke-width="1"/>
<g transform="translate(657.20 598.40) rotate(40.0)"><rect x="5.10" y="-0.7" width="2.2" height="1.4" fill="#173f8c"/><rect x="6.90" y="-1.55" width="6.60" height="3.10" fill="#2a6fc0"/></g>
<circle cx="657.20" cy="598.40" r="6.40" fill="#8ab0dc" stroke="#25aae6" stroke-width="1.0"/>
<circle cx="657.20" cy="598.40" r="3.70" fill="#3a87c8" stroke="none" stroke-width="1"/>
<text x="637.20" y="587.50" font-size="7.6" fill="#333" text-anchor="start" textLength="23.5" lengthAdjust="spacingAndGlyphs">T<tspan font-size="5.32" dy="2.13">H</tspan><tspan dy="-2.13">1-like</tspan></text>
<g transform="translate(582.70 606.30) rotate(-45.0)"><rect x="5.10" y="-0.7" width="2.2" height="1.4" fill="#1f3f90"/><rect x="6.90" y="-1.80" width="6.60" height="3.60" fill="#d9d9dc"/></g>
<circle cx="582.70" cy="606.30" r="6.40" fill="#8cb6e4" stroke="#2a5fb8" stroke-width="1.0"/>
<circle cx="582.70" cy="606.30" r="3.50" fill="#0d569e" stroke="none" stroke-width="1"/>
<g transform="translate(612.00 617.60) rotate(-45.0)"><rect x="5.10" y="-0.7" width="2.2" height="1.4" fill="#1f3f90"/><rect x="6.90" y="-1.80" width="6.60" height="3.60" fill="#d9d9dc"/></g>
<circle cx="612.00" cy="617.60" r="6.50" fill="#6a72c4" stroke="#3342a4" stroke-width="1.0"/>
<circle cx="612.00" cy="617.60" r="3.60" fill="#4b3a9a" stroke="none" stroke-width="1"/>
<g transform="translate(639.80 608.00) rotate(135.0)"><rect x="5.10" y="-0.7" width="2.2" height="1.4" fill="#1f3f90"/><rect x="6.90" y="-1.80" width="6.60" height="3.60" fill="#d9d9dc"/></g>
<circle cx="639.80" cy="608.00" r="6.50" fill="#6a72c4" stroke="#3342a4" stroke-width="1.0"/>
<circle cx="639.80" cy="608.00" r="3.60" fill="#4b3a9a" stroke="none" stroke-width="1"/>
<g transform="translate(663.60 626.30) rotate(-135.0)"><rect x="5.10" y="-0.7" width="2.2" height="1.4" fill="#8a8a90"/><rect x="6.90" y="-1.80" width="6.60" height="3.60" fill="#9a9aa0"/><rect x="7.60" y="-1.30" width="0.8" height="2.60" fill="#cfcfd4"/><rect x="9.40" y="-1.30" width="0.8" height="2.60" fill="#cfcfd4"/><rect x="11.20" y="-1.30" width="0.8" height="2.60" fill="#cfcfd4"/></g>
<circle cx="663.60" cy="626.30" r="6.30" fill="#ededf1" stroke="#b7b7bf" stroke-width="0.8"/>
<circle cx="663.60" cy="626.30" r="3.70" fill="#9d9da3" stroke="none" stroke-width="1"/>
<text x="583.40" y="630.60" font-size="7.6" fill="#333" text-anchor="start" textLength="10.8" lengthAdjust="spacingAndGlyphs">T<tspan font-size="5.32" dy="2.13">CM</tspan><tspan dy="-2.13"></tspan></text>
<text x="631.70" y="630.60" font-size="7.6" fill="#333" text-anchor="start" textLength="11.5" lengthAdjust="spacingAndGlyphs">T<tspan font-size="5.32" dy="2.13">reg</tspan><tspan dy="-2.13"></tspan></text>
<text x="622.70" y="645.70" font-size="7.6" fill="#a6333f" text-anchor="middle">Met.Ome</text>
</svg>
</body></html>
